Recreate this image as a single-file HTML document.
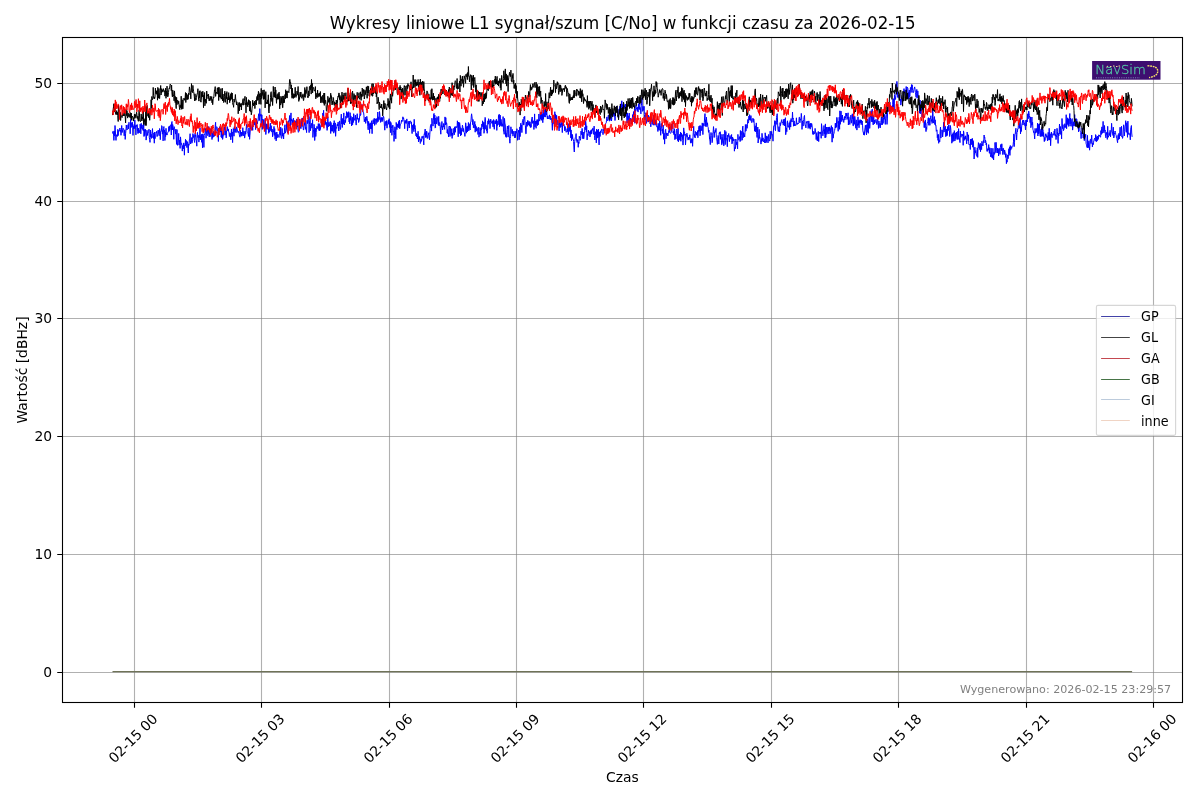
<!DOCTYPE html>
<html><head><meta charset="utf-8"><title>Wykresy liniowe L1</title>
<style>html,body{margin:0;padding:0;background:#fff;width:1200px;height:800px;overflow:hidden}svg{display:block;will-change:transform}</style>
</head><body>
<svg width="1200" height="800" viewBox="0 0 1200 800">
<rect width="1200" height="800" fill="#fff"/>
<path d="M134.50 37.50V702.50M261.50 37.50V702.50M389.50 37.50V702.50M516.50 37.50V702.50M643.50 37.50V702.50M771.50 37.50V702.50M898.50 37.50V702.50M1026.50 37.50V702.50M1153.50 37.50V702.50" stroke="#808080" stroke-opacity="0.62" stroke-width="1.1" fill="none"/>
<path d="M62.50 672.50H1182.50M62.50 554.50H1182.50M62.50 436.50H1182.50M62.50 318.50H1182.50M62.50 201.50H1182.50M62.50 83.50H1182.50" stroke="#808080" stroke-opacity="0.62" stroke-width="1.1" fill="none"/>
<g fill="none" stroke-width="1.0" stroke-linejoin="round">
<path d="M112.5 133.5L112.9 131.4L113.2 131.2L113.6 135.1L113.9 140.4L114.3 131.1L114.6 136.0L115.0 125.5L115.3 129.2L115.7 137.1L116.0 140.4L116.4 135.2L116.7 135.8L117.1 134.4L117.5 136.4L117.8 129.3L118.2 135.6L118.5 131.1L118.9 130.3L119.2 131.2L119.6 130.5L119.9 128.0L120.3 131.5L120.6 130.0L121.0 135.3L121.4 129.8L121.7 125.5L122.1 132.6L122.4 131.9L122.8 129.2L123.1 128.2L123.5 129.5L123.8 130.2L124.2 135.8L124.5 130.6L124.9 129.7L125.2 139.4L125.6 133.6L126.0 129.6L126.3 125.0L126.7 128.5L127.0 130.0L127.4 128.5L127.7 127.6L128.1 124.6L128.4 128.9L128.8 122.4L129.1 122.4L129.5 123.0L129.9 123.6L130.2 133.8L130.6 119.3L130.9 127.8L131.3 122.7L131.6 123.2L132.0 127.0L132.3 122.2L132.7 127.9L133.0 135.4L133.4 126.2L133.7 128.7L134.1 124.5L134.5 128.5L134.8 119.9L135.2 127.0L135.5 125.6L135.9 134.9L136.2 127.8L136.6 124.9L136.9 124.9L137.3 124.5L137.6 131.8L138.0 133.6L138.4 128.1L138.7 132.8L139.1 130.2L139.4 132.7L139.8 131.2L140.1 124.2L140.5 126.2L140.8 133.8L141.2 123.3L141.5 128.4L141.9 125.7L142.2 124.9L142.6 129.6L143.0 129.8L143.3 130.8L143.7 121.1L144.0 136.5L144.4 129.5L144.7 135.5L145.1 130.9L145.4 129.2L145.8 133.0L146.1 140.1L146.5 136.9L146.9 130.2L147.2 131.1L147.6 135.5L147.9 133.2L148.3 132.7L148.6 131.6L149.0 129.2L149.3 137.7L149.7 139.4L150.0 142.4L150.4 130.0L150.7 137.0L151.1 134.3L151.5 138.4L151.8 133.6L152.2 131.3L152.5 128.6L152.9 137.8L153.2 135.8L153.6 138.5L153.9 132.9L154.3 143.2L154.6 132.0L155.0 138.7L155.4 136.3L155.7 135.8L156.1 132.1L156.4 132.8L156.8 131.2L157.1 136.6L157.5 134.8L157.8 134.8L158.2 130.0L158.5 133.4L158.9 134.6L159.2 135.8L159.6 128.5L160.0 131.1L160.3 139.7L160.7 131.5L161.0 131.8L161.4 130.9L161.7 125.6L162.1 126.2L162.4 134.1L162.8 130.4L163.1 140.9L163.5 128.5L163.9 126.5L164.2 132.4L164.6 130.1L164.9 140.5L165.3 132.1L165.6 136.6L166.0 128.3L166.3 134.7L166.7 133.4L167.0 135.1L167.4 133.4L167.7 132.8L168.1 131.6L168.5 131.6L168.8 126.6L169.2 131.3L169.5 126.2L169.9 129.7L170.2 125.8L170.6 124.8L170.9 124.9L171.3 135.0L171.6 122.8L172.0 121.5L172.4 130.0L172.7 124.5L173.1 127.3L173.4 127.9L173.8 139.3L174.1 126.6L174.5 128.4L174.8 129.7L175.2 131.3L175.5 134.1L175.9 129.1L176.2 137.8L176.6 144.4L177.0 129.6L177.3 143.1L177.7 145.4L178.0 142.1L178.4 140.3L178.7 133.4L179.1 144.9L179.4 140.1L179.8 140.7L180.1 148.4L180.5 136.9L180.9 141.6L181.2 144.6L181.6 143.4L181.9 145.0L182.3 151.1L182.6 145.6L183.0 147.4L183.3 148.9L183.7 142.9L184.0 144.0L184.4 155.2L184.7 145.2L185.1 145.8L185.5 139.3L185.8 145.5L186.2 140.4L186.5 142.6L186.9 147.6L187.2 141.5L187.6 142.0L187.9 148.6L188.3 153.0L188.6 143.9L189.0 145.3L189.4 139.4L189.7 139.7L190.1 133.7L190.4 144.0L190.8 141.5L191.1 141.9L191.5 137.6L191.8 143.3L192.2 142.7L192.5 139.5L192.9 133.6L193.2 135.1L193.6 137.5L194.0 135.2L194.3 140.5L194.7 142.5L195.0 133.4L195.4 136.4L195.7 135.1L196.1 140.0L196.4 140.8L196.8 146.2L197.1 135.5L197.5 132.4L197.9 137.6L198.2 135.7L198.6 135.4L198.9 142.1L199.3 135.7L199.6 137.7L200.0 128.0L200.3 139.9L200.7 137.0L201.0 135.3L201.4 134.5L201.7 142.3L202.1 134.0L202.5 147.8L202.8 133.9L203.2 134.7L203.5 135.8L203.9 147.4L204.2 135.3L204.6 133.9L204.9 133.3L205.3 130.4L205.6 128.4L206.0 138.2L206.3 135.6L206.7 128.1L207.1 131.8L207.4 128.5L207.8 135.8L208.1 134.4L208.5 133.0L208.8 126.5L209.2 137.0L209.5 135.6L209.9 131.8L210.2 136.6L210.6 128.7L211.0 129.2L211.3 128.9L211.7 134.1L212.0 139.5L212.4 133.0L212.7 137.8L213.1 132.1L213.4 131.3L213.8 137.0L214.1 134.3L214.5 135.8L214.8 133.9L215.2 126.1L215.6 122.3L215.9 131.5L216.3 127.6L216.6 126.8L217.0 126.8L217.3 128.9L217.7 131.4L218.0 134.4L218.4 141.5L218.7 128.1L219.1 132.3L219.5 126.8L219.8 126.7L220.2 131.0L220.5 132.1L220.9 127.7L221.2 137.1L221.6 129.7L221.9 138.1L222.3 133.9L222.6 139.4L223.0 137.2L223.3 132.8L223.7 135.3L224.1 128.3L224.4 126.8L224.8 130.5L225.1 135.1L225.5 129.3L225.8 129.9L226.2 137.9L226.5 130.8L226.9 130.5L227.2 126.6L227.6 129.8L228.0 131.1L228.3 128.9L228.7 131.8L229.0 131.9L229.4 136.5L229.7 135.9L230.1 133.1L230.4 135.2L230.8 139.8L231.1 134.1L231.5 129.0L231.8 136.5L232.2 132.0L232.6 142.6L232.9 134.6L233.3 128.5L233.6 130.4L234.0 136.2L234.3 126.7L234.7 130.2L235.0 132.3L235.4 130.8L235.7 128.5L236.1 132.6L236.5 126.9L236.8 127.9L237.2 129.2L237.5 131.0L237.9 132.2L238.2 132.9L238.6 132.7L238.9 131.0L239.3 134.7L239.6 136.1L240.0 137.2L240.3 130.3L240.7 134.4L241.1 136.1L241.4 132.1L241.8 136.2L242.1 134.2L242.5 134.6L242.8 127.7L243.2 135.9L243.5 134.8L243.9 131.1L244.2 131.8L244.6 138.1L245.0 135.8L245.3 131.3L245.7 134.2L246.0 130.5L246.4 126.2L246.7 124.3L247.1 131.2L247.4 132.4L247.8 132.7L248.1 133.8L248.5 136.5L248.8 127.8L249.2 127.9L249.6 139.3L249.9 135.3L250.3 129.7L250.6 123.5L251.0 128.5L251.3 129.6L251.7 129.8L252.0 130.0L252.4 125.5L252.7 130.4L253.1 121.3L253.5 123.0L253.8 122.0L254.2 125.1L254.5 121.7L254.9 123.0L255.2 122.6L255.6 129.6L255.9 123.2L256.3 118.6L256.6 121.6L257.0 121.3L257.3 123.9L257.7 121.4L258.1 120.0L258.4 116.1L258.8 113.7L259.1 120.7L259.5 120.2L259.8 108.6L260.2 116.3L260.5 114.5L260.9 116.8L261.2 124.8L261.6 114.5L262.0 114.9L262.3 129.4L262.7 119.0L263.0 119.7L263.4 126.5L263.7 119.7L264.1 122.4L264.4 124.0L264.8 130.6L265.1 118.5L265.5 123.9L265.8 134.5L266.2 130.6L266.6 123.8L266.9 128.9L267.3 125.4L267.6 124.5L268.0 129.6L268.3 123.4L268.7 133.3L269.0 127.0L269.4 132.1L269.7 131.9L270.1 123.7L270.5 123.1L270.8 130.7L271.2 125.7L271.5 130.4L271.9 132.1L272.2 129.1L272.6 136.8L272.9 134.3L273.3 130.7L273.6 131.8L274.0 126.4L274.3 135.4L274.7 128.6L275.1 139.3L275.4 132.7L275.8 132.7L276.1 140.9L276.5 139.3L276.8 132.0L277.2 137.8L277.5 135.0L277.9 134.3L278.2 135.9L278.6 135.8L279.0 137.5L279.3 134.0L279.7 133.1L280.0 129.3L280.4 135.3L280.7 127.1L281.1 137.2L281.4 138.2L281.8 138.5L282.1 128.4L282.5 136.2L282.8 132.9L283.2 133.5L283.6 139.0L283.9 133.1L284.3 133.7L284.6 127.4L285.0 124.7L285.3 133.2L285.7 132.0L286.0 130.8L286.4 129.0L286.7 121.3L287.1 130.0L287.5 132.5L287.8 133.2L288.2 123.8L288.5 120.7L288.9 121.4L289.2 121.3L289.6 115.5L289.9 121.7L290.3 128.5L290.6 117.2L291.0 112.9L291.3 120.8L291.7 119.0L292.1 124.8L292.4 120.4L292.8 123.1L293.1 119.1L293.5 118.1L293.8 125.8L294.2 123.4L294.5 122.0L294.9 124.4L295.2 120.7L295.6 124.6L296.0 126.5L296.3 129.1L296.7 118.9L297.0 125.8L297.4 126.9L297.7 125.3L298.1 131.1L298.4 132.3L298.8 131.6L299.1 125.1L299.5 125.1L299.8 118.9L300.2 128.0L300.6 125.3L300.9 128.7L301.3 124.4L301.6 119.9L302.0 126.5L302.3 117.9L302.7 125.1L303.0 125.5L303.4 130.0L303.7 129.9L304.1 125.5L304.4 122.4L304.8 125.4L305.2 122.7L305.5 129.3L305.9 127.1L306.2 128.8L306.6 132.6L306.9 120.7L307.3 120.2L307.6 123.7L308.0 122.6L308.3 118.1L308.7 114.5L309.1 132.6L309.4 124.7L309.8 120.3L310.1 116.5L310.5 130.7L310.8 125.8L311.2 125.9L311.5 123.4L311.9 128.2L312.2 126.4L312.6 119.7L312.9 137.4L313.3 132.0L313.7 129.2L314.0 124.3L314.4 126.4L314.7 140.5L315.1 133.6L315.4 128.1L315.8 136.5L316.1 132.4L316.5 130.2L316.8 126.4L317.2 126.5L317.6 128.7L317.9 128.4L318.3 123.6L318.6 126.8L319.0 130.5L319.3 123.7L319.7 130.8L320.0 129.1L320.4 129.4L320.7 126.0L321.1 124.5L321.4 120.7L321.8 123.4L322.2 125.3L322.5 116.2L322.9 113.0L323.2 115.9L323.6 110.3L323.9 117.8L324.3 124.9L324.6 123.8L325.0 125.2L325.3 120.9L325.7 124.1L326.1 121.9L326.4 122.6L326.8 128.2L327.1 130.4L327.5 128.0L327.8 116.7L328.2 125.7L328.5 126.7L328.9 122.3L329.2 125.1L329.6 126.1L329.9 123.5L330.3 121.4L330.7 133.5L331.0 122.5L331.4 127.6L331.7 131.2L332.1 125.2L332.4 131.3L332.8 125.2L333.1 126.3L333.5 123.1L333.8 133.2L334.2 120.6L334.6 131.3L334.9 131.5L335.3 122.9L335.6 136.3L336.0 129.2L336.3 127.4L336.7 128.3L337.0 125.0L337.4 124.0L337.7 125.9L338.1 122.1L338.4 126.5L338.8 131.0L339.2 122.5L339.5 120.9L339.9 126.2L340.2 129.5L340.6 129.3L340.9 120.5L341.3 114.1L341.6 123.8L342.0 122.8L342.3 127.5L342.7 118.4L343.1 123.7L343.4 124.2L343.8 112.9L344.1 123.8L344.5 124.9L344.8 120.2L345.2 119.9L345.5 122.5L345.9 116.2L346.2 118.4L346.6 111.6L346.9 115.4L347.3 112.5L347.7 117.6L348.0 113.1L348.4 117.3L348.7 111.7L349.1 121.9L349.4 118.0L349.8 123.9L350.1 112.7L350.5 120.3L350.8 115.9L351.2 117.4L351.6 126.0L351.9 122.7L352.3 117.2L352.6 124.8L353.0 118.0L353.3 122.5L353.7 113.7L354.0 117.8L354.4 120.1L354.7 120.3L355.1 117.4L355.4 115.1L355.8 121.6L356.2 125.1L356.5 119.2L356.9 116.6L357.2 113.7L357.6 119.2L357.9 119.4L358.3 118.3L358.6 122.5L359.0 121.4L359.3 120.5L359.7 115.9L360.1 113.3L360.4 115.6L360.8 114.9L361.1 105.8L361.5 109.0L361.8 104.4L362.2 104.6L362.5 109.1L362.9 109.6L363.2 112.6L363.6 112.5L363.9 115.2L364.3 121.7L364.7 119.4L365.0 121.3L365.4 117.0L365.7 123.4L366.1 119.5L366.4 120.4L366.8 116.3L367.1 118.2L367.5 120.9L367.8 126.4L368.2 129.8L368.6 121.4L368.9 124.8L369.3 124.0L369.6 133.3L370.0 122.9L370.3 122.9L370.7 128.8L371.0 123.2L371.4 129.1L371.7 120.7L372.1 133.7L372.4 124.0L372.8 122.9L373.2 119.7L373.5 122.4L373.9 123.9L374.2 118.4L374.6 125.4L374.9 118.7L375.3 119.6L375.6 119.0L376.0 124.4L376.3 118.5L376.7 121.7L377.1 122.6L377.4 121.9L377.8 112.0L378.1 121.7L378.5 117.5L378.8 116.8L379.2 119.6L379.5 111.5L379.9 115.2L380.2 119.4L380.6 122.4L380.9 117.7L381.3 120.3L381.7 117.4L382.0 121.8L382.4 117.8L382.7 120.5L383.1 117.0L383.4 116.2L383.8 117.0L384.1 121.0L384.5 126.9L384.8 130.2L385.2 121.7L385.6 121.4L385.9 125.6L386.3 124.0L386.6 120.6L387.0 128.2L387.3 124.9L387.7 123.5L388.0 121.2L388.4 120.0L388.7 124.3L389.1 118.7L389.4 121.9L389.8 127.5L390.2 121.5L390.5 132.6L390.9 122.5L391.2 125.1L391.6 128.3L391.9 135.3L392.3 128.1L392.6 125.3L393.0 125.1L393.3 131.6L393.7 131.0L394.0 141.4L394.4 135.7L394.8 126.8L395.1 127.2L395.5 132.1L395.8 138.8L396.2 122.4L396.5 125.2L396.9 129.6L397.2 123.8L397.6 127.0L397.9 124.7L398.3 127.6L398.7 121.4L399.0 127.7L399.4 120.0L399.7 128.8L400.1 126.4L400.4 124.1L400.8 124.0L401.1 123.3L401.5 120.2L401.8 121.8L402.2 121.5L402.5 119.3L402.9 116.8L403.3 118.6L403.6 117.9L404.0 121.3L404.3 121.9L404.7 128.7L405.0 120.4L405.4 122.8L405.7 120.6L406.1 123.6L406.4 122.0L406.8 118.9L407.2 123.6L407.5 130.9L407.9 126.6L408.2 121.2L408.6 124.0L408.9 124.1L409.3 128.0L409.6 121.0L410.0 121.6L410.3 121.1L410.7 120.9L411.0 123.6L411.4 122.1L411.8 129.9L412.1 133.6L412.5 125.6L412.8 124.9L413.2 129.9L413.5 123.9L413.9 131.7L414.2 119.3L414.6 128.8L414.9 125.3L415.3 127.7L415.7 133.1L416.0 135.9L416.4 133.3L416.7 137.0L417.1 134.1L417.4 139.0L417.8 136.6L418.1 131.3L418.5 142.0L418.8 136.4L419.2 139.5L419.5 136.7L419.9 140.1L420.3 143.5L420.6 142.6L421.0 138.8L421.3 141.4L421.7 138.4L422.0 136.4L422.4 138.2L422.7 138.1L423.1 135.9L423.4 140.5L423.8 144.9L424.2 133.9L424.5 134.5L424.9 131.2L425.2 129.0L425.6 137.5L425.9 132.4L426.3 137.3L426.6 131.1L427.0 132.1L427.3 138.5L427.7 138.0L428.0 135.5L428.4 134.9L428.8 132.7L429.1 137.8L429.5 139.8L429.8 134.7L430.2 128.6L430.5 125.4L430.9 125.5L431.2 124.1L431.6 131.1L431.9 118.2L432.3 121.7L432.7 121.8L433.0 126.1L433.4 120.2L433.7 114.0L434.1 113.4L434.4 123.9L434.8 115.0L435.1 128.1L435.5 127.7L435.8 118.0L436.2 121.2L436.5 123.9L436.9 116.6L437.3 117.9L437.6 118.8L438.0 123.1L438.3 124.8L438.7 116.3L439.0 126.0L439.4 123.2L439.7 122.5L440.1 124.5L440.4 130.2L440.8 134.2L441.2 126.8L441.5 127.1L441.9 121.5L442.2 126.2L442.6 130.0L442.9 126.1L443.3 127.0L443.6 123.5L444.0 124.8L444.3 127.8L444.7 129.4L445.0 116.9L445.4 124.9L445.8 117.7L446.1 124.4L446.5 122.7L446.8 123.9L447.2 133.0L447.5 129.5L447.9 133.8L448.2 133.1L448.6 137.0L448.9 126.9L449.3 126.0L449.7 127.3L450.0 136.5L450.4 126.6L450.7 129.5L451.1 134.8L451.4 135.5L451.8 128.7L452.1 138.4L452.5 132.9L452.8 135.5L453.2 133.1L453.5 132.9L453.9 128.2L454.3 134.8L454.6 126.8L455.0 128.7L455.3 132.3L455.7 126.5L456.0 126.9L456.4 127.6L456.7 126.6L457.1 127.3L457.4 120.8L457.8 126.0L458.2 136.8L458.5 122.0L458.9 130.0L459.2 133.7L459.6 122.6L459.9 125.1L460.3 126.6L460.6 135.9L461.0 128.1L461.3 135.0L461.7 129.7L462.0 130.9L462.4 125.2L462.8 126.8L463.1 131.6L463.5 128.5L463.8 132.1L464.2 132.6L464.5 132.9L464.9 136.4L465.2 132.6L465.6 122.8L465.9 123.6L466.3 133.2L466.7 126.8L467.0 126.5L467.4 131.9L467.7 126.3L468.1 128.6L468.4 122.5L468.8 130.9L469.1 123.7L469.5 127.1L469.8 128.9L470.2 130.0L470.5 122.2L470.9 122.1L471.3 116.1L471.6 113.8L472.0 117.0L472.3 120.2L472.7 124.7L473.0 119.5L473.4 127.7L473.7 125.1L474.1 128.1L474.4 124.2L474.8 121.4L475.2 132.2L475.5 124.6L475.9 130.5L476.2 126.5L476.6 131.2L476.9 129.9L477.3 128.6L477.6 128.5L478.0 134.5L478.3 127.1L478.7 128.7L479.0 137.2L479.4 132.5L479.8 134.1L480.1 127.7L480.5 131.4L480.8 136.0L481.2 129.1L481.5 129.7L481.9 124.0L482.2 126.7L482.6 120.8L482.9 122.5L483.3 129.0L483.6 122.4L484.0 133.3L484.4 130.3L484.7 121.7L485.1 117.4L485.4 118.2L485.8 129.2L486.1 125.3L486.5 130.7L486.8 129.1L487.2 133.3L487.5 130.6L487.9 120.8L488.3 124.2L488.6 118.7L489.0 120.2L489.3 120.4L489.7 123.0L490.0 128.6L490.4 122.5L490.7 119.1L491.1 120.6L491.4 122.7L491.8 122.2L492.1 123.6L492.5 120.7L492.9 126.8L493.2 126.9L493.6 119.5L493.9 125.5L494.3 129.3L494.6 124.2L495.0 120.5L495.3 123.9L495.7 121.2L496.0 122.6L496.4 119.2L496.8 130.4L497.1 124.1L497.5 125.5L497.8 120.8L498.2 124.7L498.5 115.4L498.9 117.7L499.2 114.2L499.6 126.9L499.9 115.7L500.3 115.1L500.6 125.6L501.0 119.3L501.4 121.9L501.7 126.3L502.1 124.0L502.4 123.8L502.8 126.4L503.1 116.6L503.5 131.2L503.8 130.4L504.2 134.3L504.5 118.4L504.9 123.1L505.3 124.9L505.6 136.5L506.0 133.3L506.3 137.4L506.7 134.1L507.0 129.6L507.4 126.0L507.7 129.4L508.1 137.1L508.4 129.8L508.8 125.5L509.1 133.9L509.5 138.8L509.9 143.2L510.2 138.5L510.6 136.3L510.9 126.8L511.3 132.1L511.6 132.5L512.0 133.7L512.3 129.4L512.7 134.5L513.0 136.2L513.4 132.8L513.8 131.2L514.1 134.0L514.5 134.9L514.8 138.0L515.2 131.1L515.5 137.5L515.9 132.5L516.2 131.3L516.6 133.2L516.9 128.7L517.3 135.0L517.6 140.3L518.0 133.2L518.4 132.5L518.7 130.1L519.1 139.8L519.4 137.2L519.8 126.9L520.1 136.6L520.5 127.6L520.8 123.2L521.2 130.0L521.5 125.1L521.9 132.6L522.3 122.0L522.6 120.7L523.0 119.3L523.3 121.2L523.7 125.1L524.0 116.9L524.4 119.1L524.7 116.3L525.1 124.2L525.4 125.6L525.8 133.8L526.1 133.7L526.5 122.0L526.9 123.6L527.2 126.4L527.6 120.6L527.9 120.3L528.3 125.2L528.6 122.9L529.0 121.3L529.3 122.0L529.7 126.2L530.0 121.8L530.4 127.5L530.8 124.4L531.1 127.3L531.5 120.0L531.8 119.0L532.2 117.0L532.5 123.3L532.9 123.2L533.2 120.7L533.6 122.0L533.9 129.5L534.3 124.0L534.6 113.9L535.0 126.9L535.4 124.6L535.7 121.0L536.1 128.3L536.4 120.8L536.8 124.1L537.1 119.5L537.5 125.6L537.8 119.8L538.2 124.9L538.5 122.7L538.9 114.0L539.3 120.8L539.6 121.1L540.0 118.9L540.3 112.4L540.7 119.1L541.0 115.5L541.4 120.3L541.7 112.2L542.1 119.6L542.4 114.4L542.8 122.7L543.1 109.8L543.5 119.3L543.9 111.6L544.2 109.9L544.6 116.7L544.9 115.5L545.3 117.1L545.6 108.3L546.0 109.7L546.3 115.0L546.7 108.0L547.0 116.2L547.4 118.8L547.8 115.8L548.1 119.0L548.5 117.8L548.8 117.5L549.2 117.2L549.5 114.9L549.9 119.2L550.2 117.7L550.6 116.3L550.9 120.0L551.3 118.2L551.6 119.4L552.0 123.4L552.4 130.3L552.7 116.8L553.1 118.3L553.4 123.4L553.8 123.4L554.1 122.8L554.5 127.5L554.8 111.7L555.2 119.1L555.5 114.0L555.9 118.5L556.3 123.3L556.6 115.3L557.0 125.1L557.3 120.6L557.7 120.5L558.0 120.3L558.4 125.4L558.7 125.7L559.1 130.9L559.4 120.1L559.8 125.0L560.1 127.7L560.5 123.7L560.9 127.0L561.2 122.2L561.6 125.2L561.9 123.5L562.3 132.6L562.6 122.8L563.0 122.4L563.3 125.2L563.7 125.2L564.0 124.5L564.4 127.0L564.8 130.9L565.1 126.5L565.5 128.7L565.8 130.3L566.2 132.3L566.5 131.2L566.9 130.7L567.2 128.6L567.6 131.7L567.9 123.4L568.3 134.5L568.6 131.8L569.0 123.8L569.4 130.8L569.7 124.2L570.1 131.9L570.4 126.1L570.8 137.9L571.1 129.9L571.5 140.7L571.8 134.0L572.2 138.8L572.5 134.7L572.9 139.5L573.3 139.4L573.6 141.5L574.0 149.1L574.3 152.0L574.7 141.6L575.0 139.2L575.4 137.3L575.7 136.8L576.1 133.6L576.4 140.4L576.8 139.1L577.1 142.5L577.5 139.9L577.9 139.8L578.2 147.3L578.6 142.0L578.9 143.5L579.3 136.2L579.6 137.8L580.0 137.0L580.3 140.3L580.7 138.5L581.0 131.1L581.4 134.7L581.7 134.3L582.1 128.4L582.5 133.8L582.8 138.7L583.2 132.0L583.5 138.6L583.9 138.8L584.2 133.9L584.6 133.1L584.9 127.2L585.3 129.8L585.6 120.7L586.0 123.8L586.4 131.9L586.7 125.8L587.1 139.9L587.4 133.8L587.8 135.1L588.1 135.6L588.5 130.2L588.8 132.6L589.2 132.2L589.5 131.7L589.9 137.0L590.2 136.0L590.6 130.7L591.0 134.2L591.3 129.8L591.7 133.7L592.0 129.7L592.4 130.3L592.7 128.2L593.1 128.3L593.4 132.8L593.8 134.4L594.1 126.1L594.5 135.5L594.9 140.0L595.2 136.1L595.6 131.7L595.9 132.5L596.3 142.9L596.6 129.1L597.0 132.9L597.3 138.1L597.7 130.3L598.0 136.7L598.4 129.1L598.7 138.5L599.1 144.9L599.5 131.9L599.8 136.3L600.2 136.4L600.5 131.0L600.9 132.9L601.2 130.0L601.6 130.4L601.9 128.9L602.3 131.6L602.6 132.1L603.0 134.7L603.4 131.8L603.7 129.0L604.1 128.5L604.4 129.5L604.8 128.3L605.1 128.9L605.5 124.0L605.8 123.3L606.2 122.8L606.5 120.6L606.9 116.9L607.2 121.0L607.6 120.2L608.0 118.8L608.3 115.2L608.7 116.5L609.0 119.9L609.4 121.2L609.7 113.3L610.1 120.5L610.4 117.2L610.8 113.8L611.1 117.2L611.5 120.9L611.9 117.0L612.2 110.1L612.6 113.6L612.9 112.1L613.3 115.1L613.6 112.8L614.0 116.5L614.3 112.8L614.7 114.0L615.0 120.5L615.4 113.9L615.7 111.6L616.1 112.0L616.5 107.5L616.8 106.0L617.2 112.4L617.5 110.6L617.9 109.3L618.2 117.9L618.6 117.5L618.9 113.5L619.3 108.8L619.6 109.3L620.0 105.9L620.4 112.7L620.7 106.9L621.1 109.6L621.4 105.9L621.8 100.8L622.1 107.7L622.5 104.5L622.8 111.3L623.2 109.7L623.5 107.1L623.9 107.4L624.2 106.0L624.6 105.7L625.0 108.8L625.3 104.0L625.7 116.0L626.0 115.2L626.4 110.7L626.7 115.3L627.1 123.1L627.4 112.9L627.8 119.6L628.1 115.7L628.5 116.1L628.9 123.3L629.2 113.1L629.6 125.7L629.9 121.1L630.3 118.0L630.6 120.5L631.0 119.4L631.3 123.9L631.7 119.6L632.0 118.1L632.4 117.5L632.7 114.6L633.1 118.9L633.5 111.6L633.8 121.9L634.2 116.7L634.5 108.8L634.9 123.3L635.2 109.6L635.6 111.3L635.9 105.4L636.3 107.4L636.6 109.0L637.0 109.8L637.4 111.2L637.7 107.1L638.1 112.1L638.4 104.3L638.8 108.7L639.1 103.2L639.5 109.5L639.8 107.4L640.2 107.4L640.5 108.9L640.9 113.9L641.2 103.5L641.6 104.7L642.0 97.5L642.3 111.4L642.7 110.3L643.0 106.4L643.4 110.4L643.7 110.0L644.1 106.3L644.4 114.5L644.8 119.9L645.1 119.9L645.5 114.7L645.9 112.7L646.2 123.3L646.6 123.3L646.9 119.3L647.3 113.0L647.6 120.2L648.0 118.9L648.3 115.1L648.7 122.1L649.0 117.8L649.4 121.1L649.7 119.6L650.1 116.3L650.5 122.4L650.8 126.8L651.2 117.5L651.5 117.6L651.9 117.5L652.2 124.3L652.6 119.6L652.9 122.5L653.3 125.2L653.6 115.2L654.0 124.6L654.4 120.3L654.7 118.8L655.1 125.3L655.4 124.3L655.8 119.9L656.1 124.4L656.5 123.2L656.8 127.0L657.2 126.7L657.5 126.5L657.9 131.5L658.2 123.3L658.6 129.6L659.0 129.4L659.3 130.3L659.7 121.0L660.0 125.3L660.4 127.3L660.7 135.3L661.1 124.2L661.4 123.4L661.8 128.2L662.1 131.1L662.5 129.3L662.9 133.6L663.2 125.1L663.6 139.3L663.9 133.1L664.3 133.9L664.6 144.1L665.0 134.1L665.3 130.4L665.7 129.3L666.0 138.8L666.4 135.2L666.7 132.9L667.1 133.9L667.5 133.4L667.8 136.0L668.2 134.5L668.5 133.4L668.9 130.5L669.2 132.0L669.6 126.8L669.9 133.0L670.3 133.1L670.6 133.4L671.0 132.3L671.3 132.2L671.7 124.0L672.1 127.2L672.4 126.2L672.8 122.7L673.1 132.9L673.5 131.4L673.8 134.6L674.2 134.6L674.5 128.7L674.9 139.7L675.2 134.0L675.6 136.6L676.0 138.9L676.3 130.7L676.7 129.1L677.0 130.8L677.4 138.5L677.7 140.6L678.1 128.4L678.4 141.9L678.8 136.2L679.1 139.9L679.5 134.4L679.8 135.9L680.2 140.4L680.6 132.1L680.9 141.3L681.3 133.0L681.6 136.4L682.0 136.5L682.3 134.6L682.7 140.5L683.0 145.1L683.4 139.0L683.7 127.9L684.1 132.3L684.5 132.0L684.8 135.5L685.2 134.0L685.5 145.0L685.9 138.8L686.2 137.6L686.6 134.2L686.9 133.2L687.3 134.8L687.6 137.7L688.0 140.1L688.3 139.8L688.7 137.2L689.1 139.6L689.4 138.6L689.8 134.8L690.1 137.9L690.5 142.2L690.8 143.2L691.2 138.6L691.5 139.1L691.9 142.8L692.2 138.8L692.6 146.3L693.0 136.5L693.3 132.2L693.7 126.3L694.0 133.8L694.4 136.9L694.7 134.5L695.1 138.0L695.4 131.4L695.8 132.6L696.1 134.0L696.5 135.0L696.8 132.2L697.2 135.8L697.6 130.6L697.9 137.8L698.3 132.0L698.6 129.6L699.0 126.2L699.3 131.4L699.7 125.7L700.0 135.8L700.4 133.6L700.7 125.7L701.1 126.1L701.5 128.8L701.8 130.8L702.2 122.9L702.5 123.9L702.9 134.6L703.2 125.5L703.6 123.5L703.9 126.1L704.3 122.4L704.6 118.0L705.0 113.6L705.3 126.2L705.7 119.8L706.1 126.8L706.4 117.1L706.8 122.2L707.1 125.2L707.5 122.8L707.8 126.9L708.2 127.4L708.5 132.3L708.9 130.0L709.2 133.1L709.6 139.7L710.0 140.9L710.3 144.6L710.7 135.9L711.0 132.5L711.4 135.4L711.7 135.9L712.1 142.7L712.4 141.1L712.8 133.0L713.1 133.0L713.5 126.6L713.8 130.0L714.2 137.5L714.6 131.9L714.9 132.4L715.3 130.0L715.6 132.2L716.0 128.4L716.3 137.5L716.7 137.8L717.0 141.3L717.4 144.4L717.7 139.1L718.1 135.5L718.5 136.9L718.8 144.0L719.2 133.0L719.5 132.3L719.9 134.0L720.2 131.7L720.6 139.3L720.9 134.1L721.3 136.3L721.6 144.7L722.0 144.7L722.3 143.3L722.7 136.3L723.1 134.2L723.4 140.9L723.8 145.9L724.1 139.7L724.5 139.8L724.8 130.3L725.2 144.6L725.5 137.9L725.9 131.6L726.2 139.2L726.6 138.5L727.0 141.9L727.3 146.7L727.7 135.0L728.0 136.8L728.4 135.0L728.7 133.5L729.1 138.7L729.4 141.7L729.8 136.2L730.1 135.5L730.5 138.5L730.8 137.4L731.2 139.3L731.6 134.5L731.9 143.9L732.3 143.3L732.6 137.0L733.0 141.0L733.3 138.7L733.7 140.8L734.0 139.1L734.4 151.2L734.7 147.6L735.1 148.2L735.5 148.7L735.8 139.0L736.2 141.8L736.5 144.6L736.9 142.0L737.2 145.2L737.6 148.8L737.9 134.4L738.3 139.3L738.6 139.9L739.0 139.5L739.3 138.0L739.7 136.6L740.1 141.6L740.4 130.5L740.8 140.7L741.1 131.2L741.5 132.3L741.8 135.3L742.2 140.2L742.5 128.0L742.9 126.1L743.2 137.7L743.6 132.6L744.0 133.8L744.3 134.6L744.7 137.0L745.0 132.4L745.4 124.5L745.7 131.3L746.1 130.9L746.4 125.6L746.8 124.4L747.1 128.3L747.5 124.7L747.8 119.5L748.2 123.1L748.6 121.5L748.9 116.1L749.3 120.0L749.6 114.7L750.0 115.9L750.3 120.5L750.7 116.7L751.0 115.7L751.4 121.6L751.7 122.6L752.1 119.2L752.5 118.6L752.8 118.5L753.2 122.3L753.5 118.7L753.9 119.0L754.2 123.2L754.6 131.2L754.9 128.0L755.3 125.8L755.6 131.9L756.0 131.2L756.3 122.9L756.7 134.5L757.1 137.5L757.4 132.2L757.8 127.0L758.1 143.0L758.5 139.3L758.8 134.9L759.2 129.4L759.5 138.3L759.9 137.4L760.2 139.5L760.6 140.2L761.0 144.1L761.3 138.7L761.7 141.8L762.0 133.3L762.4 137.6L762.7 140.9L763.1 137.8L763.4 142.0L763.8 141.4L764.1 141.9L764.5 139.5L764.8 143.0L765.2 132.8L765.6 136.9L765.9 143.0L766.3 135.9L766.6 141.6L767.0 138.6L767.3 136.9L767.7 136.5L768.0 142.9L768.4 134.8L768.7 134.4L769.1 141.2L769.4 140.6L769.8 141.0L770.2 131.2L770.5 138.9L770.9 136.9L771.2 135.1L771.6 131.4L771.9 134.8L772.3 134.6L772.6 134.5L773.0 141.2L773.3 133.0L773.7 126.1L774.1 126.3L774.4 124.6L774.8 120.6L775.1 129.6L775.5 130.7L775.8 121.2L776.2 124.4L776.5 117.4L776.9 115.3L777.2 113.7L777.6 122.9L777.9 128.9L778.3 131.5L778.7 129.2L779.0 126.6L779.4 131.4L779.7 132.0L780.1 122.6L780.4 125.7L780.8 123.9L781.1 122.6L781.5 120.3L781.8 119.6L782.2 123.0L782.6 122.7L782.9 122.1L783.3 125.2L783.6 119.6L784.0 120.1L784.3 119.0L784.7 126.0L785.0 123.3L785.4 117.7L785.7 134.7L786.1 131.4L786.4 127.9L786.8 131.7L787.2 122.1L787.5 120.8L787.9 127.0L788.2 127.4L788.6 125.7L788.9 124.6L789.3 122.6L789.6 129.6L790.0 121.3L790.3 120.4L790.7 127.1L791.1 118.5L791.4 121.1L791.8 121.0L792.1 122.0L792.5 112.0L792.8 118.9L793.2 118.0L793.5 126.2L793.9 123.6L794.2 120.9L794.6 126.0L794.9 125.0L795.3 124.5L795.7 125.6L796.0 124.6L796.4 117.8L796.7 122.8L797.1 124.6L797.4 122.9L797.8 123.5L798.1 124.0L798.5 123.0L798.8 122.7L799.2 117.2L799.6 117.3L799.9 122.8L800.3 118.8L800.6 120.1L801.0 118.4L801.3 113.4L801.7 117.9L802.0 129.4L802.4 122.3L802.7 120.8L803.1 126.1L803.4 121.5L803.8 119.5L804.2 116.3L804.5 115.4L804.9 124.3L805.2 125.5L805.6 124.9L805.9 127.9L806.3 121.6L806.6 123.1L807.0 121.4L807.3 121.5L807.7 121.3L808.1 128.4L808.4 127.4L808.8 120.9L809.1 123.4L809.5 128.1L809.8 123.7L810.2 129.2L810.5 123.3L810.9 127.1L811.2 127.1L811.6 123.4L811.9 124.3L812.3 128.0L812.7 134.2L813.0 134.0L813.4 134.5L813.7 131.3L814.1 132.1L814.4 133.9L814.8 133.5L815.1 128.4L815.5 132.3L815.8 132.1L816.2 139.6L816.6 133.3L816.9 132.7L817.3 140.9L817.6 136.7L818.0 140.6L818.3 131.4L818.7 141.6L819.0 132.6L819.4 133.3L819.7 132.2L820.1 133.4L820.4 133.9L820.8 131.9L821.2 138.3L821.5 123.7L821.9 127.0L822.2 130.9L822.6 131.8L822.9 135.8L823.3 130.6L823.6 131.0L824.0 125.5L824.3 133.8L824.7 129.4L825.1 137.9L825.4 123.9L825.8 137.4L826.1 129.4L826.5 127.1L826.8 134.3L827.2 133.6L827.5 132.1L827.9 127.0L828.2 130.8L828.6 127.4L828.9 134.0L829.3 126.9L829.7 130.7L830.0 128.2L830.4 133.5L830.7 128.5L831.1 127.0L831.4 125.6L831.8 132.5L832.1 142.2L832.5 127.4L832.8 129.4L833.2 138.2L833.6 134.0L833.9 133.6L834.3 131.6L834.6 130.4L835.0 128.2L835.3 123.3L835.7 127.9L836.0 123.0L836.4 127.2L836.7 117.5L837.1 117.5L837.4 123.6L837.8 124.6L838.2 131.3L838.5 121.3L838.9 127.6L839.2 117.2L839.6 129.3L839.9 110.8L840.3 124.3L840.6 117.3L841.0 111.1L841.3 114.8L841.7 121.6L842.1 119.1L842.4 115.0L842.8 119.8L843.1 119.0L843.5 122.2L843.8 122.5L844.2 118.2L844.5 116.5L844.9 119.9L845.2 116.8L845.6 118.0L845.9 113.0L846.3 116.1L846.7 113.3L847.0 119.5L847.4 118.1L847.7 116.5L848.1 112.8L848.4 125.0L848.8 116.8L849.1 119.1L849.5 122.4L849.8 124.5L850.2 119.9L850.6 119.0L850.9 115.1L851.3 123.2L851.6 120.1L852.0 119.3L852.3 113.8L852.7 119.5L853.0 125.8L853.4 125.8L853.7 116.0L854.1 122.3L854.4 124.3L854.8 116.4L855.2 120.5L855.5 126.1L855.9 128.3L856.2 119.8L856.6 121.8L856.9 130.1L857.3 124.0L857.6 125.5L858.0 116.8L858.3 125.1L858.7 120.6L859.0 127.8L859.4 120.6L859.8 123.2L860.1 119.6L860.5 122.6L860.8 120.2L861.2 124.7L861.5 120.0L861.9 122.7L862.2 121.0L862.6 125.9L862.9 130.9L863.3 132.6L863.7 134.8L864.0 131.9L864.4 135.2L864.7 131.0L865.1 127.4L865.4 125.2L865.8 130.0L866.1 132.5L866.5 134.9L866.8 124.7L867.2 132.2L867.5 119.0L867.9 124.8L868.3 133.3L868.6 121.8L869.0 117.8L869.3 117.1L869.7 128.4L870.0 123.8L870.4 116.0L870.7 116.6L871.1 110.7L871.4 115.4L871.8 121.9L872.2 109.1L872.5 121.8L872.9 120.9L873.2 124.9L873.6 115.7L873.9 118.2L874.3 124.0L874.6 120.1L875.0 122.7L875.3 120.7L875.7 120.0L876.0 119.3L876.4 122.0L876.8 124.5L877.1 124.5L877.5 116.8L877.8 119.9L878.2 123.9L878.5 128.4L878.9 121.0L879.2 122.6L879.6 124.9L879.9 127.6L880.3 128.0L880.7 122.5L881.0 120.7L881.4 117.1L881.7 124.8L882.1 123.8L882.4 124.6L882.8 118.1L883.1 123.4L883.5 117.7L883.8 114.3L884.2 119.1L884.5 114.6L884.9 120.6L885.3 124.4L885.6 118.2L886.0 115.2L886.3 112.6L886.7 114.6L887.0 124.4L887.4 118.1L887.7 108.9L888.1 106.6L888.4 111.4L888.8 110.2L889.2 110.4L889.5 110.5L889.9 102.1L890.2 104.8L890.6 111.5L890.9 110.6L891.3 108.4L891.6 106.4L892.0 109.7L892.3 109.3L892.7 104.3L893.0 99.2L893.4 107.0L893.8 98.6L894.1 110.8L894.5 94.6L894.8 96.9L895.2 99.4L895.5 99.4L895.9 95.2L896.2 84.1L896.6 89.4L896.9 81.4L897.3 89.9L897.7 97.4L898.0 96.5L898.4 95.3L898.7 96.5L899.1 98.2L899.4 94.7L899.8 93.7L900.1 100.7L900.5 99.1L900.8 105.1L901.2 102.8L901.5 98.9L901.9 98.7L902.3 98.5L902.6 102.2L903.0 95.3L903.3 91.0L903.7 90.8L904.0 88.6L904.4 92.9L904.7 90.6L905.1 90.1L905.4 98.1L905.8 99.5L906.2 86.5L906.5 95.3L906.9 92.3L907.2 87.0L907.6 87.8L907.9 88.5L908.3 99.2L908.6 92.5L909.0 98.7L909.3 90.1L909.7 96.8L910.0 94.5L910.4 87.6L910.8 87.4L911.1 92.5L911.5 84.6L911.8 89.2L912.2 84.8L912.5 90.5L912.9 92.5L913.2 92.8L913.6 92.0L913.9 89.5L914.3 88.0L914.7 86.9L915.0 89.1L915.4 92.3L915.7 94.0L916.1 97.3L916.4 93.4L916.8 89.4L917.1 98.3L917.5 96.2L917.8 90.9L918.2 96.1L918.5 97.7L918.9 100.3L919.3 105.8L919.6 113.1L920.0 100.0L920.3 113.8L920.7 111.0L921.0 110.3L921.4 105.3L921.7 111.9L922.1 117.4L922.4 113.5L922.8 112.8L923.2 114.2L923.5 121.6L923.9 122.7L924.2 127.6L924.6 121.6L924.9 127.5L925.3 119.9L925.6 125.4L926.0 131.6L926.3 127.2L926.7 129.4L927.0 123.5L927.4 122.5L927.8 123.1L928.1 117.9L928.5 117.7L928.8 125.3L929.2 118.3L929.5 119.9L929.9 125.3L930.2 119.5L930.6 117.2L930.9 115.7L931.3 121.4L931.7 119.5L932.0 123.4L932.4 122.8L932.7 108.1L933.1 116.4L933.4 123.1L933.8 120.3L934.1 119.7L934.5 116.6L934.8 124.5L935.2 119.8L935.5 125.4L935.9 125.1L936.3 131.3L936.6 130.5L937.0 129.9L937.3 137.7L937.7 134.7L938.0 140.4L938.4 134.4L938.7 143.3L939.1 139.8L939.4 142.0L939.8 141.5L940.2 130.2L940.5 127.0L940.9 138.1L941.2 132.0L941.6 131.6L941.9 129.8L942.3 130.2L942.6 137.0L943.0 133.1L943.3 128.8L943.7 122.2L944.0 132.1L944.4 130.3L944.8 126.2L945.1 126.1L945.5 126.3L945.8 136.7L946.2 129.2L946.5 135.6L946.9 129.0L947.2 135.6L947.6 126.8L947.9 126.3L948.3 130.6L948.6 124.8L949.0 124.7L949.4 130.4L949.7 136.5L950.1 130.8L950.4 125.5L950.8 129.1L951.1 134.8L951.5 134.8L951.8 143.2L952.2 140.9L952.5 133.8L952.9 141.6L953.3 132.5L953.6 139.3L954.0 141.1L954.3 130.6L954.7 133.2L955.0 140.8L955.4 133.1L955.7 138.8L956.1 138.2L956.4 132.1L956.8 137.2L957.1 139.6L957.5 139.0L957.9 131.2L958.2 139.4L958.6 128.6L958.9 135.8L959.3 137.3L959.6 140.3L960.0 142.6L960.3 131.1L960.7 135.0L961.0 137.3L961.4 134.2L961.8 134.3L962.1 135.6L962.5 136.0L962.8 134.0L963.2 145.3L963.5 130.9L963.9 133.1L964.2 140.4L964.6 137.5L964.9 136.7L965.3 139.2L965.6 135.8L966.0 137.7L966.4 140.9L966.7 143.9L967.1 132.1L967.4 133.7L967.8 137.2L968.1 140.8L968.5 134.8L968.8 144.3L969.2 144.8L969.5 144.1L969.9 144.6L970.3 149.5L970.6 139.1L971.0 145.0L971.3 141.3L971.7 138.9L972.0 144.3L972.4 138.4L972.7 147.2L973.1 140.6L973.4 141.8L973.8 150.8L974.1 159.0L974.5 152.7L974.9 147.2L975.2 153.1L975.6 151.1L975.9 150.5L976.3 155.3L976.6 155.5L977.0 156.5L977.3 147.8L977.7 157.4L978.0 148.9L978.4 142.6L978.8 145.1L979.1 148.0L979.5 144.7L979.8 149.6L980.2 143.2L980.5 151.7L980.9 145.4L981.2 144.0L981.6 149.6L981.9 141.3L982.3 143.9L982.6 145.6L983.0 146.0L983.4 140.5L983.7 142.5L984.1 135.0L984.4 138.1L984.8 137.5L985.1 142.9L985.5 140.2L985.8 141.0L986.2 145.0L986.5 143.2L986.9 151.3L987.3 151.4L987.6 148.7L988.0 149.1L988.3 150.2L988.7 144.6L989.0 148.6L989.4 153.3L989.7 147.7L990.1 151.4L990.4 154.4L990.8 156.9L991.1 148.1L991.5 154.0L991.9 157.5L992.2 155.0L992.6 158.3L992.9 148.3L993.3 156.8L993.6 160.0L994.0 152.2L994.3 154.3L994.7 154.1L995.0 142.5L995.4 147.4L995.8 152.7L996.1 142.3L996.5 148.5L996.8 150.0L997.2 153.0L997.5 148.0L997.9 152.9L998.2 149.3L998.6 156.0L998.9 148.3L999.3 148.3L999.6 150.9L1000.0 154.4L1000.4 147.5L1000.7 144.6L1001.1 144.4L1001.4 150.9L1001.8 143.8L1002.1 147.8L1002.5 149.1L1002.8 154.6L1003.2 148.4L1003.5 148.3L1003.9 152.7L1004.3 154.5L1004.6 150.0L1005.0 151.7L1005.3 153.4L1005.7 157.4L1006.0 153.7L1006.4 163.7L1006.7 159.5L1007.1 162.2L1007.4 156.0L1007.8 154.8L1008.1 158.7L1008.5 154.2L1008.9 148.7L1009.2 153.2L1009.6 146.9L1009.9 155.4L1010.3 145.5L1010.6 150.2L1011.0 149.3L1011.3 146.5L1011.7 148.4L1012.0 147.3L1012.4 146.9L1012.8 146.3L1013.1 144.8L1013.5 141.3L1013.8 133.9L1014.2 146.6L1014.5 142.4L1014.9 134.5L1015.2 134.3L1015.6 129.7L1015.9 128.3L1016.3 134.4L1016.6 140.0L1017.0 132.6L1017.4 132.1L1017.7 129.0L1018.1 129.0L1018.4 125.4L1018.8 122.8L1019.1 123.5L1019.5 128.3L1019.8 123.2L1020.2 117.8L1020.5 134.0L1020.9 127.2L1021.3 131.5L1021.6 127.1L1022.0 123.6L1022.3 122.6L1022.7 120.3L1023.0 125.0L1023.4 121.2L1023.7 120.1L1024.1 122.4L1024.4 122.6L1024.8 125.5L1025.1 124.5L1025.5 129.9L1025.9 120.1L1026.2 125.9L1026.6 119.9L1026.9 121.0L1027.3 122.0L1027.6 113.8L1028.0 117.4L1028.3 118.7L1028.7 111.1L1029.0 113.2L1029.4 115.6L1029.8 118.2L1030.1 122.6L1030.5 116.9L1030.8 127.7L1031.2 126.3L1031.5 125.5L1031.9 117.0L1032.2 124.8L1032.6 122.3L1032.9 129.2L1033.3 130.6L1033.6 132.5L1034.0 131.8L1034.4 135.4L1034.7 138.9L1035.1 128.4L1035.4 133.2L1035.8 131.7L1036.1 132.3L1036.5 128.5L1036.8 131.9L1037.2 132.6L1037.5 123.2L1037.9 136.0L1038.3 124.3L1038.6 133.8L1039.0 132.3L1039.3 123.6L1039.7 131.1L1040.0 136.0L1040.4 136.6L1040.7 130.9L1041.1 129.1L1041.4 136.4L1041.8 127.3L1042.1 127.5L1042.5 136.0L1042.9 129.4L1043.2 136.8L1043.6 132.5L1043.9 135.6L1044.3 141.6L1044.6 137.6L1045.0 140.5L1045.3 136.3L1045.7 133.9L1046.0 133.6L1046.4 137.3L1046.7 135.6L1047.1 136.0L1047.5 141.0L1047.8 135.9L1048.2 132.3L1048.5 134.6L1048.9 140.2L1049.2 128.3L1049.6 139.8L1049.9 133.5L1050.3 133.9L1050.6 145.7L1051.0 137.7L1051.4 132.0L1051.7 135.7L1052.1 137.7L1052.4 134.2L1052.8 133.9L1053.1 133.6L1053.5 134.3L1053.8 135.3L1054.2 130.9L1054.5 134.6L1054.9 129.0L1055.2 136.1L1055.6 134.4L1056.0 139.6L1056.3 137.8L1056.7 134.8L1057.0 128.3L1057.4 131.4L1057.7 135.4L1058.1 143.4L1058.4 133.4L1058.8 135.9L1059.1 132.2L1059.5 124.0L1059.9 134.1L1060.2 130.9L1060.6 126.5L1060.9 134.5L1061.3 131.4L1061.6 138.9L1062.0 118.5L1062.3 125.2L1062.7 128.7L1063.0 124.6L1063.4 130.7L1063.7 130.1L1064.1 128.7L1064.5 127.1L1064.8 123.7L1065.2 127.3L1065.5 127.5L1065.9 124.0L1066.2 114.7L1066.6 128.7L1066.9 119.5L1067.3 123.9L1067.6 117.8L1068.0 125.2L1068.4 118.8L1068.7 126.4L1069.1 126.2L1069.4 118.8L1069.8 113.5L1070.1 123.9L1070.5 118.2L1070.8 126.1L1071.2 126.3L1071.5 121.9L1071.9 119.3L1072.2 118.6L1072.6 130.1L1073.0 126.2L1073.3 121.7L1073.7 125.0L1074.0 126.0L1074.4 121.6L1074.7 114.6L1075.1 126.2L1075.4 119.1L1075.8 119.2L1076.1 121.7L1076.5 118.7L1076.9 119.6L1077.2 126.7L1077.6 122.1L1077.9 128.0L1078.3 127.7L1078.6 131.9L1079.0 123.2L1079.3 126.3L1079.7 125.1L1080.0 131.1L1080.4 131.4L1080.7 132.3L1081.1 138.6L1081.5 132.5L1081.8 133.8L1082.2 128.0L1082.5 128.5L1082.9 134.2L1083.2 138.0L1083.6 133.6L1083.9 132.8L1084.3 140.7L1084.6 135.0L1085.0 135.6L1085.4 137.3L1085.7 134.2L1086.1 143.6L1086.4 144.6L1086.8 145.9L1087.1 147.5L1087.5 135.4L1087.8 147.9L1088.2 142.7L1088.5 147.4L1088.9 140.8L1089.2 146.5L1089.6 150.2L1090.0 143.2L1090.3 139.3L1090.7 139.0L1091.0 143.6L1091.4 139.9L1091.7 135.1L1092.1 142.3L1092.4 146.9L1092.8 142.8L1093.1 144.8L1093.5 142.8L1093.9 140.4L1094.2 139.3L1094.6 138.2L1094.9 139.5L1095.3 140.9L1095.6 134.6L1096.0 135.5L1096.3 141.8L1096.7 136.8L1097.0 141.1L1097.4 140.3L1097.7 136.0L1098.1 139.5L1098.5 138.0L1098.8 134.8L1099.2 136.0L1099.5 135.1L1099.9 136.4L1100.2 137.0L1100.6 137.2L1100.9 130.6L1101.3 134.5L1101.6 128.3L1102.0 126.8L1102.4 133.3L1102.7 131.5L1103.1 121.4L1103.4 129.1L1103.8 132.7L1104.1 132.9L1104.5 125.5L1104.8 131.1L1105.2 130.1L1105.5 136.5L1105.9 137.8L1106.2 135.4L1106.6 132.7L1107.0 131.9L1107.3 139.4L1107.7 126.3L1108.0 136.9L1108.4 137.2L1108.7 135.5L1109.1 132.6L1109.4 133.6L1109.8 135.6L1110.1 130.3L1110.5 137.0L1110.9 132.6L1111.2 131.9L1111.6 123.3L1111.9 128.1L1112.3 133.2L1112.6 132.5L1113.0 135.5L1113.3 127.2L1113.7 138.0L1114.0 137.4L1114.4 134.3L1114.7 132.3L1115.1 131.0L1115.5 132.7L1115.8 134.7L1116.2 135.4L1116.5 137.9L1116.9 138.7L1117.2 140.6L1117.6 142.7L1117.9 135.5L1118.3 134.5L1118.6 139.6L1119.0 133.2L1119.4 138.9L1119.7 133.8L1120.1 127.2L1120.4 135.8L1120.8 135.2L1121.1 130.8L1121.5 126.3L1121.8 136.7L1122.2 135.9L1122.5 138.4L1122.9 137.0L1123.2 129.9L1123.6 124.8L1124.0 131.1L1124.3 136.0L1124.7 131.6L1125.0 126.1L1125.4 125.0L1125.7 120.7L1126.1 131.2L1126.4 132.3L1126.8 122.7L1127.1 128.1L1127.5 137.3L1127.9 121.1L1128.2 134.3L1128.6 134.3L1128.9 132.8L1129.3 133.8L1129.6 134.7L1130.0 134.5L1130.3 139.8L1130.7 129.1L1131.0 127.3L1131.4 125.5L1131.7 133.0L1132.1 136.9" stroke="#0000ff"/>
<path d="M112.5 115.1L112.9 112.3L113.2 109.1L113.6 106.2L113.9 103.7L114.3 112.1L114.6 110.5L115.0 107.3L115.3 111.3L115.7 114.4L116.0 114.2L116.4 114.2L116.7 110.6L117.1 114.9L117.5 112.3L117.8 115.6L118.2 121.5L118.5 104.9L118.9 110.8L119.2 111.6L119.6 110.1L119.9 117.0L120.3 112.3L120.6 120.5L121.0 115.7L121.4 115.6L121.7 116.6L122.1 117.6L122.4 114.0L122.8 115.9L123.1 113.3L123.5 116.0L123.8 115.3L124.2 116.0L124.5 109.2L124.9 115.4L125.2 116.6L125.6 122.9L126.0 109.5L126.3 113.1L126.7 115.7L127.0 110.6L127.4 117.1L127.7 118.1L128.1 112.9L128.4 116.1L128.8 116.7L129.1 114.2L129.5 116.5L129.9 117.5L130.2 112.5L130.6 117.1L130.9 118.7L131.3 113.0L131.6 120.3L132.0 117.2L132.3 116.1L132.7 117.2L133.0 117.1L133.4 121.1L133.7 117.9L134.1 117.7L134.5 114.0L134.8 118.5L135.2 114.4L135.5 115.0L135.9 117.7L136.2 114.8L136.6 112.2L136.9 114.2L137.3 118.5L137.6 116.4L138.0 120.1L138.4 121.3L138.7 115.8L139.1 109.9L139.4 112.9L139.8 121.1L140.1 120.8L140.5 121.6L140.8 120.9L141.2 113.9L141.5 118.1L141.9 121.0L142.2 116.9L142.6 119.2L143.0 110.9L143.3 110.6L143.7 124.4L144.0 118.6L144.4 120.0L144.7 122.3L145.1 125.4L145.4 125.0L145.8 106.7L146.1 125.6L146.5 118.1L146.9 105.9L147.2 105.4L147.6 110.4L147.9 116.2L148.3 112.4L148.6 117.6L149.0 111.8L149.3 115.6L149.7 120.3L150.0 116.2L150.4 111.5L150.7 112.3L151.1 99.7L151.5 108.3L151.8 96.5L152.2 98.7L152.5 99.7L152.9 97.6L153.2 87.4L153.6 95.6L153.9 98.5L154.3 97.2L154.6 98.8L155.0 97.0L155.4 88.1L155.7 93.4L156.1 93.8L156.4 91.0L156.8 94.3L157.1 90.4L157.5 100.2L157.8 87.4L158.2 93.9L158.5 98.2L158.9 88.5L159.2 92.5L159.6 98.6L160.0 93.4L160.3 90.4L160.7 85.5L161.0 95.0L161.4 93.6L161.7 88.6L162.1 90.8L162.4 89.9L162.8 92.2L163.1 90.6L163.5 88.7L163.9 91.2L164.2 90.6L164.6 92.1L164.9 96.1L165.3 94.0L165.6 88.2L166.0 98.3L166.3 91.0L166.7 96.0L167.0 86.1L167.4 92.0L167.7 96.9L168.1 96.2L168.5 92.6L168.8 89.8L169.2 88.0L169.5 88.6L169.9 85.5L170.2 84.1L170.6 85.0L170.9 85.5L171.3 90.7L171.6 85.1L172.0 94.0L172.4 96.9L172.7 90.0L173.1 91.2L173.4 95.8L173.8 95.0L174.1 100.8L174.5 90.9L174.8 96.1L175.2 102.6L175.5 96.6L175.9 105.3L176.2 108.6L176.6 97.3L177.0 104.7L177.3 101.8L177.7 100.2L178.0 101.9L178.4 103.7L178.7 101.2L179.1 105.3L179.4 107.4L179.8 109.7L180.1 104.8L180.5 107.6L180.9 106.0L181.2 96.2L181.6 109.3L181.9 101.6L182.3 99.8L182.6 108.8L183.0 108.9L183.3 98.4L183.7 98.0L184.0 98.5L184.4 98.5L184.7 100.3L185.1 98.4L185.5 92.5L185.8 102.5L186.2 93.1L186.5 93.6L186.9 99.7L187.2 94.6L187.6 99.4L187.9 98.8L188.3 99.1L188.6 93.1L189.0 94.7L189.4 86.9L189.7 88.2L190.1 90.9L190.4 92.1L190.8 98.9L191.1 91.7L191.5 83.6L191.8 91.8L192.2 91.4L192.5 92.6L192.9 85.4L193.2 88.8L193.6 91.5L194.0 93.9L194.3 96.7L194.7 101.0L195.0 93.8L195.4 97.8L195.7 100.3L196.1 100.1L196.4 97.8L196.8 95.0L197.1 94.1L197.5 92.6L197.9 88.7L198.2 95.1L198.6 99.4L198.9 101.1L199.3 91.2L199.6 97.7L200.0 90.7L200.3 101.1L200.7 101.0L201.0 102.2L201.4 98.0L201.7 91.8L202.1 94.9L202.5 96.8L202.8 91.2L203.2 95.9L203.5 107.7L203.9 95.2L204.2 101.5L204.6 92.5L204.9 105.8L205.3 102.0L205.6 99.2L206.0 102.0L206.3 103.3L206.7 91.0L207.1 96.0L207.4 95.5L207.8 94.6L208.1 98.8L208.5 94.2L208.8 98.5L209.2 101.0L209.5 98.6L209.9 100.2L210.2 96.2L210.6 99.3L211.0 100.6L211.3 99.8L211.7 96.5L212.0 102.8L212.4 99.5L212.7 104.7L213.1 99.9L213.4 97.2L213.8 97.9L214.1 93.9L214.5 89.9L214.8 90.6L215.2 86.6L215.6 96.4L215.9 94.5L216.3 93.1L216.6 92.1L217.0 93.6L217.3 87.8L217.7 88.0L218.0 94.2L218.4 87.5L218.7 100.6L219.1 87.3L219.5 96.8L219.8 95.3L220.2 97.6L220.5 97.4L220.9 88.6L221.2 99.2L221.6 97.8L221.9 96.2L222.3 88.2L222.6 100.9L223.0 94.0L223.3 97.2L223.7 102.6L224.1 101.5L224.4 96.5L224.8 91.2L225.1 100.9L225.5 102.3L225.8 95.4L226.2 93.0L226.5 98.7L226.9 91.6L227.2 104.2L227.6 98.5L228.0 97.3L228.3 99.9L228.7 92.6L229.0 100.0L229.4 97.7L229.7 102.7L230.1 95.6L230.4 100.5L230.8 93.7L231.1 98.8L231.5 92.7L231.8 99.4L232.2 93.0L232.6 102.5L232.9 104.8L233.3 105.1L233.6 107.3L234.0 99.0L234.3 100.4L234.7 102.2L235.0 99.4L235.4 94.5L235.7 99.0L236.1 100.4L236.5 105.0L236.8 101.8L237.2 103.8L237.5 105.5L237.9 105.7L238.2 113.8L238.6 106.8L238.9 102.6L239.3 110.9L239.6 102.6L240.0 103.6L240.3 106.8L240.7 103.8L241.1 105.1L241.4 110.0L241.8 103.3L242.1 105.1L242.5 101.9L242.8 99.9L243.2 98.6L243.5 105.1L243.9 105.0L244.2 101.3L244.6 98.8L245.0 96.3L245.3 104.6L245.7 103.2L246.0 112.9L246.4 97.4L246.7 104.8L247.1 102.4L247.4 104.4L247.8 106.8L248.1 101.8L248.5 99.7L248.8 104.9L249.2 100.3L249.6 111.1L249.9 107.5L250.3 101.3L250.6 111.6L251.0 110.7L251.3 114.8L251.7 112.6L252.0 108.9L252.4 105.7L252.7 100.2L253.1 105.2L253.5 106.0L253.8 102.9L254.2 104.9L254.5 101.3L254.9 108.6L255.2 103.5L255.6 104.1L255.9 100.0L256.3 105.0L256.6 99.2L257.0 96.4L257.3 100.4L257.7 94.6L258.1 100.2L258.4 91.3L258.8 92.0L259.1 104.2L259.5 94.2L259.8 96.9L260.2 93.2L260.5 97.7L260.9 104.4L261.2 88.4L261.6 98.6L262.0 96.1L262.3 95.8L262.7 91.2L263.0 90.0L263.4 99.4L263.7 97.0L264.1 89.8L264.4 98.9L264.8 93.3L265.1 107.9L265.5 100.1L265.8 91.6L266.2 103.9L266.6 102.3L266.9 103.0L267.3 104.0L267.6 99.9L268.0 102.6L268.3 94.8L268.7 111.1L269.0 113.0L269.4 105.9L269.7 103.9L270.1 106.3L270.5 97.6L270.8 92.7L271.2 91.7L271.5 98.1L271.9 101.5L272.2 98.1L272.6 105.5L272.9 99.0L273.3 86.4L273.6 91.8L274.0 97.2L274.3 92.2L274.7 97.1L275.1 87.0L275.4 98.0L275.8 89.9L276.1 96.5L276.5 103.3L276.8 96.4L277.2 94.4L277.5 99.3L277.9 94.1L278.2 93.3L278.6 99.2L279.0 92.1L279.3 93.3L279.7 108.8L280.0 96.2L280.4 103.5L280.7 105.1L281.1 100.6L281.4 97.6L281.8 103.3L282.1 96.1L282.5 107.6L282.8 107.8L283.2 95.9L283.6 103.0L283.9 98.7L284.3 102.7L284.6 99.3L285.0 94.5L285.3 98.9L285.7 89.7L286.0 97.8L286.4 95.3L286.7 91.0L287.1 98.1L287.5 93.5L287.8 90.9L288.2 91.2L288.5 91.6L288.9 92.7L289.2 86.7L289.6 79.7L289.9 79.3L290.3 83.3L290.6 82.6L291.0 89.0L291.3 84.9L291.7 95.6L292.1 98.3L292.4 88.1L292.8 97.5L293.1 93.6L293.5 98.4L293.8 95.6L294.2 93.9L294.5 97.5L294.9 93.7L295.2 87.3L295.6 96.2L296.0 97.4L296.3 94.9L296.7 95.6L297.0 91.1L297.4 94.6L297.7 92.9L298.1 86.5L298.4 93.1L298.8 101.4L299.1 97.4L299.5 99.4L299.8 93.3L300.2 92.1L300.6 96.7L300.9 92.0L301.3 97.4L301.6 97.1L302.0 98.4L302.3 95.1L302.7 96.9L303.0 93.8L303.4 100.6L303.7 100.4L304.1 95.1L304.4 96.8L304.8 87.5L305.2 97.5L305.5 90.8L305.9 89.7L306.2 93.5L306.6 92.5L306.9 86.7L307.3 95.4L307.6 97.6L308.0 98.0L308.3 97.6L308.7 90.8L309.1 96.1L309.4 86.6L309.8 86.3L310.1 90.2L310.5 89.6L310.8 84.8L311.2 94.1L311.5 79.5L311.9 87.9L312.2 83.3L312.6 92.9L312.9 89.3L313.3 87.4L313.7 87.5L314.0 89.9L314.4 91.1L314.7 90.9L315.1 90.0L315.4 86.6L315.8 98.9L316.1 93.2L316.5 96.9L316.8 95.5L317.2 97.6L317.6 90.1L317.9 96.6L318.3 96.8L318.6 93.6L319.0 94.4L319.3 96.5L319.7 93.0L320.0 95.1L320.4 91.5L320.7 102.8L321.1 97.8L321.4 96.6L321.8 102.6L322.2 102.4L322.5 97.2L322.9 95.1L323.2 102.7L323.6 103.3L323.9 93.1L324.3 105.4L324.6 93.0L325.0 103.6L325.3 100.1L325.7 100.5L326.1 104.5L326.4 110.6L326.8 111.3L327.1 108.0L327.5 105.0L327.8 96.3L328.2 98.1L328.5 102.3L328.9 99.7L329.2 101.8L329.6 97.8L329.9 106.2L330.3 99.2L330.7 93.2L331.0 96.1L331.4 95.8L331.7 101.8L332.1 105.0L332.4 101.1L332.8 103.7L333.1 97.4L333.5 98.1L333.8 102.7L334.2 105.2L334.6 101.8L334.9 105.0L335.3 107.2L335.6 102.8L336.0 107.4L336.3 100.0L336.7 104.5L337.0 109.5L337.4 103.3L337.7 97.8L338.1 96.1L338.4 97.2L338.8 93.0L339.2 93.1L339.5 99.6L339.9 95.3L340.2 103.9L340.6 108.1L340.9 96.5L341.3 101.5L341.6 99.0L342.0 92.1L342.3 99.0L342.7 104.8L343.1 94.9L343.4 99.6L343.8 98.5L344.1 92.9L344.5 99.6L344.8 96.9L345.2 99.8L345.5 98.5L345.9 92.7L346.2 97.7L346.6 98.5L346.9 97.4L347.3 101.5L347.7 99.7L348.0 88.2L348.4 101.2L348.7 92.8L349.1 95.4L349.4 100.9L349.8 95.3L350.1 95.7L350.5 103.7L350.8 92.6L351.2 100.0L351.6 103.4L351.9 103.1L352.3 92.6L352.6 91.1L353.0 99.1L353.3 106.0L353.7 95.1L354.0 93.6L354.4 94.6L354.7 99.5L355.1 101.1L355.4 95.4L355.8 97.9L356.2 99.4L356.5 107.4L356.9 96.8L357.2 92.3L357.6 99.4L357.9 97.0L358.3 97.9L358.6 95.5L359.0 92.7L359.3 97.7L359.7 99.3L360.1 97.3L360.4 91.8L360.8 96.6L361.1 100.4L361.5 94.2L361.8 97.1L362.2 88.1L362.5 89.2L362.9 96.2L363.2 93.9L363.6 89.3L363.9 89.6L364.3 99.0L364.7 96.7L365.0 90.2L365.4 94.6L365.7 91.2L366.1 90.5L366.4 86.8L366.8 93.8L367.1 98.3L367.5 93.3L367.8 85.9L368.2 92.9L368.6 86.4L368.9 95.8L369.3 95.5L369.6 96.6L370.0 90.2L370.3 90.8L370.7 88.4L371.0 88.4L371.4 95.4L371.7 85.7L372.1 83.6L372.4 96.3L372.8 96.0L373.2 83.7L373.5 93.8L373.9 93.0L374.2 89.6L374.6 87.6L374.9 90.0L375.3 90.3L375.6 93.5L376.0 88.8L376.3 96.9L376.7 92.9L377.1 103.9L377.4 102.0L377.8 102.7L378.1 97.2L378.5 100.0L378.8 103.5L379.2 109.6L379.5 102.3L379.9 103.7L380.2 105.8L380.6 108.0L380.9 106.5L381.3 107.9L381.7 104.0L382.0 108.4L382.4 107.8L382.7 115.9L383.1 108.1L383.4 108.2L383.8 100.6L384.1 105.1L384.5 109.1L384.8 103.2L385.2 104.1L385.6 105.3L385.9 108.7L386.3 108.3L386.6 110.0L387.0 106.4L387.3 104.0L387.7 105.3L388.0 98.4L388.4 102.0L388.7 107.3L389.1 107.1L389.4 100.8L389.8 109.1L390.2 97.7L390.5 93.9L390.9 100.2L391.2 97.9L391.6 103.2L391.9 92.2L392.3 92.7L392.6 96.3L393.0 92.0L393.3 87.8L393.7 90.4L394.0 87.7L394.4 88.4L394.8 88.1L395.1 80.6L395.5 89.7L395.8 83.0L396.2 85.1L396.5 83.9L396.9 88.4L397.2 93.1L397.6 94.5L397.9 90.3L398.3 89.9L398.7 88.8L399.0 87.3L399.4 90.3L399.7 88.3L400.1 85.4L400.4 90.0L400.8 87.0L401.1 99.1L401.5 91.9L401.8 89.0L402.2 93.0L402.5 88.1L402.9 90.2L403.3 98.0L403.6 96.9L404.0 87.3L404.3 85.5L404.7 87.4L405.0 95.3L405.4 87.8L405.7 87.2L406.1 85.9L406.4 96.6L406.8 94.2L407.2 85.2L407.5 88.6L407.9 83.5L408.2 84.5L408.6 86.1L408.9 85.5L409.3 88.0L409.6 90.5L410.0 90.4L410.3 86.0L410.7 89.8L411.0 81.8L411.4 92.5L411.8 96.8L412.1 86.7L412.5 88.8L412.8 87.2L413.2 75.0L413.5 87.8L413.9 86.3L414.2 79.6L414.6 82.5L414.9 87.5L415.3 86.6L415.7 79.6L416.0 84.4L416.4 82.7L416.7 86.1L417.1 81.9L417.4 85.2L417.8 83.7L418.1 79.5L418.5 88.1L418.8 88.3L419.2 82.2L419.5 88.9L419.9 95.3L420.3 79.1L420.6 84.8L421.0 87.3L421.3 85.1L421.7 82.2L422.0 90.7L422.4 81.1L422.7 82.9L423.1 84.4L423.4 90.4L423.8 81.6L424.2 89.0L424.5 91.4L424.9 96.8L425.2 97.2L425.6 101.1L425.9 96.1L426.3 94.1L426.6 95.6L427.0 90.9L427.3 92.4L427.7 92.3L428.0 96.7L428.4 101.0L428.8 93.9L429.1 96.4L429.5 99.4L429.8 97.8L430.2 97.4L430.5 100.4L430.9 97.2L431.2 89.7L431.6 98.7L431.9 88.7L432.3 100.2L432.7 96.8L433.0 98.4L433.4 93.2L433.7 100.0L434.1 99.3L434.4 96.2L434.8 101.9L435.1 103.4L435.5 108.1L435.8 98.5L436.2 97.8L436.5 107.2L436.9 102.3L437.3 102.7L437.6 96.8L438.0 98.4L438.3 101.6L438.7 94.2L439.0 94.9L439.4 98.1L439.7 101.4L440.1 95.0L440.4 98.3L440.8 91.3L441.2 89.0L441.5 95.1L441.9 89.2L442.2 91.8L442.6 89.4L442.9 94.0L443.3 90.2L443.6 90.5L444.0 86.2L444.3 90.0L444.7 95.0L445.0 93.7L445.4 93.4L445.8 92.9L446.1 94.7L446.5 90.1L446.8 94.5L447.2 96.1L447.5 95.2L447.9 92.5L448.2 93.8L448.6 89.6L448.9 91.0L449.3 87.0L449.7 90.0L450.0 97.8L450.4 88.8L450.7 92.3L451.1 93.6L451.4 95.3L451.8 90.5L452.1 82.7L452.5 95.9L452.8 92.3L453.2 93.8L453.5 85.9L453.9 90.1L454.3 86.2L454.6 87.0L455.0 81.7L455.3 80.7L455.7 81.1L456.0 83.1L456.4 88.4L456.7 86.8L457.1 78.5L457.4 89.4L457.8 83.4L458.2 88.9L458.5 87.3L458.9 87.3L459.2 84.8L459.6 81.1L459.9 92.0L460.3 75.4L460.6 78.4L461.0 86.2L461.3 79.5L461.7 80.5L462.0 78.3L462.4 76.1L462.8 83.4L463.1 79.5L463.5 87.3L463.8 82.8L464.2 75.8L464.5 78.1L464.9 78.0L465.2 80.0L465.6 83.3L465.9 74.4L466.3 76.8L466.7 76.8L467.0 73.6L467.4 79.6L467.7 72.5L468.1 76.4L468.4 66.5L468.8 75.4L469.1 77.1L469.5 82.0L469.8 76.3L470.2 76.1L470.5 74.7L470.9 78.1L471.3 90.0L471.6 75.4L472.0 75.5L472.3 81.3L472.7 77.8L473.0 85.4L473.4 75.0L473.7 87.6L474.1 81.7L474.4 79.6L474.8 77.4L475.2 83.9L475.5 87.2L475.9 92.1L476.2 84.8L476.6 97.7L476.9 93.8L477.3 91.7L477.6 90.9L478.0 101.4L478.3 91.2L478.7 98.7L479.0 101.4L479.4 92.0L479.8 95.2L480.1 92.3L480.5 97.5L480.8 99.0L481.2 96.7L481.5 95.4L481.9 92.4L482.2 105.8L482.6 103.0L482.9 101.0L483.3 103.8L483.6 97.2L484.0 94.0L484.4 101.8L484.7 93.8L485.1 94.7L485.4 99.2L485.8 92.8L486.1 98.4L486.5 96.1L486.8 90.8L487.2 88.5L487.5 89.4L487.9 89.2L488.3 90.7L488.6 82.8L489.0 86.7L489.3 81.1L489.7 82.1L490.0 87.1L490.4 81.4L490.7 82.4L491.1 81.2L491.4 85.3L491.8 87.6L492.1 84.8L492.5 87.2L492.9 80.3L493.2 87.7L493.6 85.0L493.9 86.0L494.3 80.3L494.6 79.4L495.0 82.7L495.3 76.1L495.7 84.3L496.0 79.7L496.4 83.9L496.8 78.2L497.1 76.4L497.5 85.0L497.8 84.5L498.2 80.9L498.5 86.1L498.9 80.9L499.2 83.1L499.6 82.3L499.9 78.4L500.3 87.8L500.6 80.2L501.0 90.3L501.4 80.4L501.7 75.4L502.1 79.2L502.4 81.9L502.8 81.2L503.1 83.2L503.5 78.3L503.8 70.8L504.2 74.9L504.5 77.9L504.9 80.1L505.3 68.9L505.6 78.1L506.0 83.8L506.3 73.9L506.7 86.1L507.0 77.3L507.4 80.6L507.7 75.4L508.1 91.6L508.4 81.3L508.8 77.2L509.1 75.9L509.5 72.2L509.9 75.2L510.2 74.1L510.6 76.6L510.9 70.1L511.3 80.5L511.6 80.0L512.0 82.2L512.3 75.3L512.7 78.3L513.0 73.4L513.4 83.6L513.8 80.2L514.1 88.4L514.5 84.7L514.8 86.6L515.2 88.8L515.5 83.2L515.9 93.4L516.2 85.6L516.6 94.1L516.9 98.1L517.3 91.3L517.6 98.0L518.0 101.4L518.4 105.8L518.7 107.1L519.1 105.2L519.4 102.3L519.8 106.6L520.1 115.1L520.5 104.1L520.8 111.1L521.2 99.3L521.5 100.5L521.9 105.9L522.3 103.5L522.6 106.5L523.0 102.8L523.3 98.2L523.7 100.1L524.0 106.7L524.4 101.7L524.7 99.4L525.1 101.3L525.4 95.1L525.8 97.5L526.1 97.6L526.5 97.6L526.9 99.3L527.2 103.1L527.6 98.4L527.9 99.2L528.3 97.5L528.6 91.5L529.0 91.7L529.3 94.8L529.7 96.8L530.0 90.2L530.4 84.6L530.8 90.4L531.1 86.9L531.5 89.5L531.8 89.6L532.2 88.2L532.5 85.6L532.9 83.7L533.2 86.3L533.6 87.3L533.9 86.1L534.3 83.2L534.6 82.5L535.0 87.7L535.4 87.3L535.7 87.1L536.1 82.1L536.4 86.0L536.8 97.7L537.1 84.3L537.5 86.7L537.8 94.4L538.2 86.7L538.5 88.6L538.9 96.1L539.3 95.3L539.6 86.4L540.0 96.5L540.3 93.4L540.7 91.1L541.0 103.6L541.4 97.6L541.7 101.6L542.1 100.0L542.4 106.4L542.8 107.4L543.1 105.7L543.5 111.1L543.9 104.9L544.2 101.5L544.6 106.6L544.9 104.2L545.3 105.5L545.6 93.5L546.0 105.6L546.3 111.8L546.7 106.2L547.0 101.8L547.4 110.5L547.8 103.9L548.1 109.1L548.5 103.7L548.8 98.6L549.2 92.6L549.5 97.9L549.9 98.1L550.2 91.8L550.6 87.2L550.9 95.6L551.3 89.9L551.6 96.0L552.0 90.0L552.4 94.2L552.7 89.8L553.1 91.2L553.4 92.5L553.8 80.1L554.1 84.7L554.5 85.3L554.8 85.3L555.2 87.3L555.5 92.6L555.9 83.5L556.3 88.9L556.6 88.2L557.0 85.2L557.3 81.7L557.7 84.7L558.0 82.7L558.4 90.3L558.7 94.4L559.1 91.6L559.4 88.9L559.8 84.7L560.1 91.9L560.5 85.0L560.9 86.3L561.2 90.9L561.6 88.5L561.9 95.4L562.3 93.3L562.6 90.0L563.0 88.5L563.3 89.9L563.7 89.5L564.0 88.2L564.4 91.7L564.8 87.4L565.1 85.8L565.5 85.2L565.8 88.4L566.2 86.8L566.5 89.3L566.9 96.4L567.2 88.4L567.6 90.4L567.9 92.5L568.3 92.8L568.6 94.8L569.0 102.2L569.4 103.4L569.7 93.8L570.1 95.9L570.4 100.5L570.8 98.3L571.1 97.3L571.5 99.9L571.8 98.5L572.2 97.0L572.5 100.0L572.9 96.7L573.3 95.5L573.6 97.9L574.0 90.3L574.3 97.7L574.7 90.1L575.0 90.9L575.4 94.6L575.7 95.2L576.1 96.0L576.4 96.2L576.8 89.0L577.1 91.2L577.5 90.3L577.9 90.3L578.2 95.4L578.6 91.0L578.9 92.0L579.3 94.2L579.6 91.7L580.0 98.0L580.3 88.6L580.7 98.2L581.0 94.6L581.4 91.1L581.7 101.8L582.1 89.8L582.5 96.3L582.8 93.7L583.2 96.1L583.5 103.5L583.9 100.2L584.2 97.5L584.6 100.2L584.9 100.3L585.3 101.2L585.6 99.6L586.0 100.6L586.4 101.0L586.7 103.2L587.1 107.4L587.4 95.6L587.8 105.7L588.1 101.6L588.5 101.5L588.8 109.3L589.2 101.0L589.5 107.7L589.9 102.1L590.2 102.5L590.6 101.0L591.0 110.5L591.3 102.9L591.7 105.8L592.0 101.2L592.4 106.4L592.7 112.1L593.1 104.5L593.4 109.5L593.8 109.9L594.1 111.9L594.5 112.8L594.9 117.2L595.2 111.8L595.6 110.2L595.9 104.9L596.3 112.8L596.6 109.5L597.0 112.6L597.3 113.0L597.7 111.8L598.0 113.8L598.4 113.2L598.7 113.7L599.1 112.3L599.5 109.2L599.8 109.2L600.2 114.6L600.5 106.0L600.9 106.9L601.2 108.4L601.6 112.4L601.9 107.1L602.3 106.7L602.6 104.9L603.0 110.0L603.4 109.8L603.7 109.3L604.1 110.4L604.4 118.3L604.8 109.0L605.1 99.9L605.5 102.1L605.8 104.6L606.2 107.6L606.5 103.6L606.9 109.7L607.2 104.2L607.6 108.9L608.0 107.3L608.3 113.3L608.7 112.8L609.0 108.6L609.4 119.6L609.7 107.3L610.1 111.1L610.4 109.1L610.8 118.4L611.1 116.3L611.5 115.4L611.9 103.6L612.2 113.9L612.6 116.8L612.9 108.4L613.3 111.6L613.6 113.7L614.0 110.5L614.3 105.8L614.7 110.7L615.0 111.0L615.4 115.9L615.7 106.9L616.1 112.3L616.5 112.7L616.8 106.2L617.2 105.8L617.5 112.0L617.9 116.7L618.2 115.0L618.6 119.8L618.9 114.0L619.3 109.5L619.6 114.3L620.0 112.6L620.4 103.9L620.7 115.9L621.1 108.1L621.4 111.2L621.8 120.4L622.1 110.3L622.5 107.5L622.8 112.8L623.2 116.1L623.5 102.2L623.9 104.5L624.2 117.9L624.6 113.9L625.0 112.2L625.3 116.6L625.7 107.0L626.0 110.5L626.4 113.7L626.7 101.2L627.1 110.5L627.4 104.5L627.8 107.0L628.1 98.5L628.5 104.6L628.9 106.2L629.2 101.9L629.6 108.5L629.9 98.3L630.3 107.8L630.6 100.1L631.0 107.7L631.3 106.2L631.7 98.0L632.0 108.6L632.4 103.9L632.7 97.4L633.1 102.0L633.5 106.9L633.8 103.0L634.2 105.7L634.5 108.5L634.9 104.5L635.2 102.6L635.6 101.3L635.9 102.3L636.3 105.7L636.6 98.2L637.0 100.4L637.4 102.9L637.7 96.3L638.1 103.1L638.4 101.5L638.8 101.3L639.1 96.8L639.5 99.3L639.8 104.2L640.2 95.1L640.5 102.2L640.9 103.0L641.2 97.5L641.6 89.7L642.0 92.8L642.3 96.5L642.7 99.5L643.0 89.7L643.4 96.9L643.7 97.6L644.1 91.5L644.4 96.2L644.8 93.1L645.1 88.2L645.5 99.7L645.9 92.5L646.2 90.0L646.6 92.1L646.9 104.3L647.3 100.3L647.6 96.5L648.0 92.1L648.3 95.8L648.7 94.8L649.0 97.3L649.4 89.0L649.7 105.8L650.1 97.2L650.5 89.7L650.8 88.3L651.2 88.3L651.5 84.2L651.9 90.8L652.2 91.8L652.6 100.7L652.9 91.7L653.3 92.4L653.6 96.7L654.0 85.8L654.4 96.2L654.7 89.8L655.1 94.3L655.4 90.4L655.8 93.1L656.1 81.5L656.5 86.9L656.8 82.5L657.2 88.9L657.5 88.9L657.9 92.8L658.2 97.2L658.6 95.3L659.0 92.4L659.3 92.5L659.7 89.6L660.0 92.6L660.4 91.3L660.7 90.8L661.1 95.4L661.4 90.1L661.8 90.2L662.1 88.8L662.5 88.5L662.9 89.1L663.2 98.4L663.6 93.2L663.9 96.1L664.3 100.7L664.6 95.6L665.0 90.2L665.3 91.4L665.7 93.7L666.0 98.8L666.4 94.4L666.7 96.1L667.1 101.5L667.5 101.9L667.8 100.7L668.2 101.4L668.5 109.3L668.9 102.1L669.2 99.8L669.6 108.3L669.9 99.3L670.3 98.5L670.6 108.7L671.0 104.5L671.3 104.1L671.7 103.7L672.1 100.1L672.4 104.5L672.8 97.5L673.1 102.3L673.5 105.2L673.8 97.7L674.2 104.9L674.5 99.1L674.9 103.5L675.2 98.9L675.6 91.3L676.0 90.2L676.3 101.0L676.7 96.4L677.0 96.8L677.4 90.1L677.7 92.5L678.1 86.7L678.4 97.2L678.8 98.5L679.1 92.5L679.5 97.9L679.8 92.6L680.2 95.9L680.6 92.5L680.9 91.3L681.3 96.6L681.6 87.6L682.0 101.7L682.3 89.1L682.7 88.4L683.0 97.9L683.4 91.5L683.7 99.5L684.1 90.1L684.5 102.2L684.8 100.9L685.2 93.3L685.5 106.6L685.9 95.2L686.2 98.1L686.6 96.3L686.9 99.5L687.3 100.4L687.6 97.6L688.0 99.3L688.3 97.1L688.7 99.4L689.1 93.2L689.4 97.3L689.8 93.4L690.1 99.8L690.5 101.9L690.8 100.7L691.2 97.7L691.5 106.2L691.9 96.1L692.2 102.6L692.6 97.3L693.0 101.5L693.3 100.8L693.7 97.4L694.0 98.3L694.4 92.8L694.7 90.3L695.1 97.0L695.4 93.4L695.8 87.7L696.1 94.2L696.5 89.5L696.8 87.5L697.2 94.1L697.6 95.2L697.9 93.2L698.3 89.9L698.6 86.5L699.0 89.9L699.3 90.8L699.7 88.7L700.0 100.0L700.4 89.8L700.7 91.4L701.1 89.4L701.5 91.9L701.8 93.7L702.2 97.4L702.5 89.1L702.9 100.9L703.2 99.0L703.6 96.3L703.9 90.1L704.3 88.0L704.6 90.2L705.0 95.1L705.3 96.2L705.7 93.1L706.1 96.0L706.4 90.9L706.8 91.3L707.1 100.7L707.5 98.2L707.8 98.5L708.2 99.7L708.5 94.4L708.9 84.2L709.2 94.3L709.6 100.6L710.0 96.5L710.3 101.7L710.7 102.1L711.0 95.1L711.4 102.2L711.7 102.7L712.1 98.2L712.4 110.3L712.8 105.2L713.1 117.0L713.5 110.1L713.8 106.9L714.2 106.9L714.6 112.6L714.9 113.4L715.3 118.3L715.6 114.0L716.0 115.7L716.3 113.8L716.7 116.7L717.0 108.2L717.4 101.7L717.7 109.7L718.1 105.9L718.5 105.1L718.8 115.4L719.2 103.2L719.5 107.5L719.9 110.5L720.2 104.6L720.6 102.9L720.9 104.8L721.3 102.2L721.6 96.8L722.0 99.9L722.3 115.5L722.7 103.7L723.1 96.4L723.4 100.5L723.8 101.7L724.1 102.8L724.5 104.4L724.8 102.0L725.2 98.2L725.5 95.7L725.9 99.0L726.2 92.3L726.6 91.0L727.0 101.0L727.3 102.8L727.7 101.2L728.0 98.3L728.4 87.7L728.7 87.4L729.1 92.6L729.4 101.6L729.8 91.5L730.1 93.2L730.5 90.4L730.8 96.4L731.2 85.6L731.6 97.8L731.9 93.6L732.3 85.6L732.6 98.7L733.0 98.9L733.3 99.5L733.7 97.4L734.0 96.3L734.4 96.7L734.7 99.6L735.1 97.1L735.5 104.4L735.8 92.8L736.2 96.5L736.5 93.9L736.9 90.1L737.2 103.0L737.6 100.5L737.9 98.3L738.3 97.5L738.6 101.1L739.0 107.5L739.3 103.4L739.7 100.8L740.1 105.1L740.4 102.0L740.8 106.7L741.1 107.8L741.5 109.2L741.8 106.4L742.2 105.9L742.5 100.0L742.9 108.6L743.2 112.0L743.6 100.2L744.0 109.4L744.3 104.4L744.7 104.6L745.0 103.9L745.4 108.8L745.7 106.4L746.1 108.0L746.4 103.6L746.8 115.8L747.1 105.4L747.5 115.3L747.8 114.4L748.2 109.5L748.6 100.1L748.9 102.2L749.3 96.8L749.6 106.9L750.0 101.1L750.3 102.3L750.7 100.1L751.0 100.1L751.4 101.5L751.7 106.7L752.1 101.1L752.5 102.1L752.8 99.6L753.2 101.6L753.5 96.2L753.9 100.1L754.2 97.6L754.6 101.3L754.9 90.8L755.3 88.9L755.6 97.2L756.0 101.0L756.3 98.2L756.7 98.9L757.1 107.8L757.4 103.9L757.8 106.7L758.1 103.5L758.5 106.9L758.8 100.9L759.2 97.7L759.5 105.0L759.9 106.9L760.2 102.2L760.6 94.0L761.0 106.5L761.3 107.8L761.7 103.1L762.0 99.4L762.4 97.0L762.7 94.9L763.1 105.7L763.4 99.0L763.8 99.4L764.1 97.2L764.5 98.0L764.8 98.1L765.2 97.1L765.6 101.3L765.9 98.1L766.3 98.2L766.6 95.4L767.0 102.9L767.3 108.5L767.7 106.4L768.0 108.2L768.4 102.4L768.7 103.8L769.1 104.5L769.4 103.4L769.8 111.7L770.2 112.9L770.5 105.3L770.9 110.6L771.2 105.2L771.6 112.5L771.9 112.3L772.3 106.7L772.6 114.9L773.0 109.6L773.3 110.5L773.7 113.8L774.1 101.2L774.4 107.1L774.8 102.6L775.1 108.7L775.5 103.9L775.8 103.2L776.2 106.6L776.5 109.5L776.9 101.2L777.2 99.3L777.6 98.2L777.9 103.7L778.3 91.8L778.7 93.5L779.0 94.1L779.4 94.3L779.7 96.1L780.1 91.8L780.4 86.4L780.8 102.6L781.1 97.2L781.5 93.4L781.8 90.3L782.2 88.3L782.6 96.7L782.9 88.0L783.3 93.4L783.6 94.3L784.0 99.2L784.3 93.8L784.7 91.1L785.0 98.1L785.4 96.0L785.7 88.9L786.1 91.7L786.4 97.0L786.8 88.6L787.2 92.3L787.5 89.5L787.9 97.3L788.2 98.8L788.6 84.0L788.9 90.2L789.3 94.5L789.6 89.4L790.0 87.8L790.3 83.3L790.7 82.7L791.1 88.9L791.4 94.2L791.8 94.8L792.1 100.4L792.5 84.8L792.8 103.2L793.2 92.1L793.5 99.6L793.9 90.5L794.2 98.0L794.6 88.5L794.9 97.8L795.3 90.1L795.7 90.1L796.0 93.3L796.4 90.1L796.7 94.4L797.1 94.3L797.4 90.5L797.8 96.0L798.1 91.1L798.5 89.7L798.8 90.1L799.2 84.1L799.6 87.4L799.9 94.4L800.3 94.5L800.6 93.0L801.0 98.9L801.3 92.3L801.7 93.4L802.0 96.5L802.4 96.3L802.7 98.6L803.1 94.4L803.4 98.5L803.8 95.8L804.2 95.3L804.5 96.7L804.9 97.4L805.2 100.7L805.6 96.2L805.9 97.3L806.3 98.5L806.6 101.1L807.0 98.7L807.3 103.5L807.7 105.9L808.1 102.6L808.4 95.7L808.8 97.5L809.1 94.7L809.5 95.1L809.8 100.5L810.2 91.6L810.5 97.3L810.9 92.9L811.2 92.4L811.6 102.3L811.9 90.7L812.3 99.9L812.7 89.7L813.0 94.9L813.4 95.2L813.7 95.6L814.1 95.7L814.4 91.2L814.8 93.3L815.1 100.2L815.5 96.5L815.8 102.8L816.2 97.0L816.6 95.5L816.9 92.6L817.3 92.5L817.6 100.7L818.0 94.3L818.3 94.6L818.7 94.9L819.0 98.7L819.4 105.5L819.7 96.4L820.1 91.5L820.4 97.0L820.8 104.2L821.2 101.5L821.5 100.5L821.9 105.9L822.2 101.3L822.6 99.0L822.9 105.7L823.3 102.8L823.6 103.9L824.0 110.8L824.3 95.8L824.7 108.9L825.1 96.2L825.4 104.5L825.8 94.7L826.1 107.9L826.5 97.7L826.8 98.4L827.2 99.1L827.5 108.3L827.9 109.6L828.2 97.7L828.6 95.9L828.9 102.7L829.3 96.3L829.7 116.0L830.0 108.4L830.4 105.4L830.7 96.0L831.1 101.1L831.4 107.9L831.8 101.3L832.1 108.1L832.5 104.4L832.8 106.2L833.2 101.7L833.6 101.7L833.9 96.4L834.3 101.9L834.6 99.1L835.0 106.0L835.3 97.7L835.7 105.1L836.0 106.4L836.4 105.3L836.7 95.6L837.1 95.7L837.4 104.5L837.8 99.4L838.2 98.8L838.5 99.3L838.9 95.6L839.2 95.2L839.6 101.7L839.9 98.9L840.3 99.6L840.6 98.0L841.0 96.6L841.3 104.2L841.7 100.4L842.1 95.1L842.4 106.4L842.8 89.8L843.1 99.0L843.5 94.9L843.8 93.1L844.2 92.6L844.5 96.8L844.9 100.6L845.2 101.7L845.6 98.8L845.9 95.2L846.3 95.1L846.7 99.9L847.0 97.9L847.4 101.1L847.7 106.5L848.1 99.0L848.4 102.0L848.8 101.6L849.1 98.5L849.5 107.0L849.8 95.6L850.2 97.6L850.6 94.3L850.9 99.8L851.3 100.8L851.6 105.9L852.0 108.5L852.3 108.2L852.7 105.9L853.0 106.3L853.4 101.7L853.7 100.2L854.1 111.1L854.4 113.4L854.8 107.0L855.2 110.5L855.5 112.0L855.9 109.7L856.2 103.2L856.6 101.8L856.9 105.3L857.3 108.8L857.6 100.4L858.0 108.5L858.3 102.4L858.7 105.9L859.0 108.9L859.4 103.7L859.8 106.5L860.1 112.1L860.5 110.0L860.8 107.8L861.2 110.6L861.5 113.4L861.9 114.0L862.2 104.1L862.6 110.1L862.9 118.7L863.3 112.1L863.7 110.8L864.0 111.5L864.4 113.0L864.7 110.8L865.1 111.8L865.4 106.3L865.8 111.8L866.1 122.9L866.5 110.3L866.8 117.1L867.2 106.9L867.5 108.9L867.9 103.4L868.3 104.9L868.6 104.4L869.0 98.1L869.3 108.2L869.7 103.0L870.0 103.5L870.4 101.2L870.7 101.3L871.1 103.2L871.4 107.7L871.8 99.4L872.2 103.7L872.5 106.5L872.9 101.7L873.2 101.6L873.6 106.4L873.9 108.1L874.3 107.8L874.6 100.2L875.0 104.2L875.3 103.7L875.7 108.7L876.0 103.7L876.4 102.3L876.8 110.9L877.1 101.4L877.5 111.3L877.8 110.6L878.2 105.0L878.5 107.3L878.9 110.4L879.2 116.7L879.6 109.3L879.9 110.1L880.3 114.7L880.7 110.9L881.0 107.1L881.4 112.2L881.7 113.7L882.1 117.5L882.4 117.5L882.8 116.1L883.1 112.0L883.5 116.5L883.8 109.7L884.2 109.8L884.5 108.6L884.9 107.2L885.3 110.5L885.6 113.7L886.0 110.2L886.3 113.8L886.7 109.2L887.0 104.6L887.4 109.8L887.7 111.7L888.1 103.5L888.4 102.5L888.8 105.4L889.2 105.9L889.5 94.5L889.9 97.5L890.2 94.5L890.6 88.0L890.9 91.2L891.3 92.7L891.6 91.2L892.0 99.4L892.3 83.0L892.7 90.2L893.0 92.1L893.4 90.8L893.8 91.2L894.1 93.3L894.5 93.7L894.8 89.9L895.2 91.7L895.5 88.1L895.9 84.4L896.2 88.0L896.6 94.3L896.9 87.7L897.3 87.3L897.7 91.5L898.0 91.4L898.4 91.7L898.7 94.8L899.1 98.2L899.4 100.5L899.8 94.8L900.1 90.3L900.5 91.4L900.8 90.4L901.2 94.7L901.5 98.7L901.9 98.4L902.3 99.4L902.6 106.2L903.0 91.3L903.3 101.1L903.7 94.6L904.0 91.6L904.4 92.7L904.7 92.3L905.1 100.8L905.4 96.8L905.8 100.6L906.2 89.8L906.5 99.2L906.9 95.0L907.2 99.1L907.6 92.9L907.9 99.3L908.3 99.5L908.6 100.1L909.0 103.1L909.3 103.9L909.7 104.0L910.0 98.2L910.4 104.2L910.8 97.1L911.1 100.0L911.5 108.0L911.8 96.7L912.2 113.8L912.5 113.0L912.9 104.2L913.2 103.4L913.6 100.6L913.9 104.3L914.3 103.5L914.7 98.9L915.0 105.2L915.4 98.7L915.7 102.2L916.1 107.7L916.4 107.2L916.8 106.6L917.1 104.8L917.5 113.1L917.8 105.0L918.2 99.1L918.5 105.2L918.9 95.4L919.3 104.5L919.6 102.8L920.0 109.7L920.3 111.1L920.7 104.6L921.0 107.0L921.4 107.9L921.7 101.1L922.1 102.1L922.4 111.1L922.8 100.3L923.2 104.6L923.5 112.7L923.9 101.5L924.2 107.9L924.6 92.9L924.9 95.1L925.3 103.6L925.6 100.7L926.0 98.5L926.3 99.0L926.7 101.2L927.0 104.7L927.4 95.3L927.8 99.5L928.1 105.2L928.5 101.2L928.8 103.8L929.2 95.9L929.5 106.0L929.9 105.4L930.2 104.0L930.6 103.5L930.9 107.8L931.3 98.3L931.7 106.2L932.0 102.5L932.4 101.3L932.7 110.4L933.1 106.9L933.4 108.7L933.8 110.8L934.1 105.6L934.5 111.5L934.8 103.1L935.2 105.4L935.5 102.5L935.9 104.4L936.3 97.7L936.6 104.0L937.0 105.3L937.3 104.6L937.7 102.3L938.0 99.8L938.4 99.6L938.7 103.2L939.1 100.9L939.4 95.5L939.8 103.7L940.2 102.5L940.5 110.8L940.9 98.1L941.2 102.3L941.6 101.1L941.9 104.0L942.3 105.8L942.6 96.3L943.0 104.2L943.3 102.0L943.7 109.0L944.0 101.8L944.4 103.8L944.8 104.3L945.1 99.7L945.5 115.4L945.8 105.8L946.2 109.0L946.5 108.1L946.9 110.2L947.2 112.6L947.6 107.0L947.9 117.5L948.3 113.5L948.6 115.0L949.0 119.4L949.4 113.6L949.7 122.5L950.1 116.8L950.4 114.0L950.8 111.9L951.1 114.2L951.5 115.5L951.8 113.5L952.2 106.8L952.5 106.3L952.9 101.0L953.3 111.4L953.6 108.7L954.0 105.8L954.3 102.8L954.7 102.4L955.0 102.4L955.4 100.8L955.7 99.9L956.1 98.0L956.4 105.4L956.8 106.3L957.1 91.3L957.5 97.2L957.9 92.0L958.2 92.7L958.6 97.5L958.9 87.4L959.3 99.7L959.6 89.0L960.0 96.6L960.3 93.7L960.7 93.0L961.0 94.5L961.4 91.0L961.8 104.0L962.1 89.7L962.5 89.3L962.8 94.1L963.2 95.7L963.5 111.6L963.9 97.9L964.2 94.8L964.6 97.0L964.9 96.6L965.3 96.2L965.6 100.1L966.0 97.0L966.4 98.2L966.7 104.5L967.1 97.0L967.4 99.7L967.8 102.5L968.1 96.1L968.5 101.8L968.8 97.7L969.2 106.6L969.5 99.3L969.9 100.1L970.3 97.3L970.6 102.5L971.0 104.5L971.3 95.0L971.7 94.0L972.0 95.8L972.4 101.1L972.7 98.0L973.1 95.2L973.4 97.0L973.8 98.2L974.1 100.7L974.5 94.5L974.9 94.0L975.2 101.3L975.6 111.2L975.9 104.2L976.3 105.2L976.6 107.6L977.0 99.1L977.3 107.8L977.7 103.7L978.0 100.8L978.4 106.3L978.8 106.5L979.1 112.5L979.5 110.3L979.8 108.6L980.2 112.6L980.5 119.9L980.9 117.7L981.2 108.0L981.6 111.5L981.9 108.7L982.3 108.6L982.6 112.8L983.0 112.0L983.4 106.9L983.7 100.2L984.1 103.5L984.4 104.0L984.8 106.3L985.1 108.5L985.5 109.5L985.8 107.0L986.2 108.4L986.5 102.4L986.9 103.6L987.3 110.6L987.6 107.2L988.0 109.6L988.3 109.3L988.7 106.5L989.0 104.6L989.4 108.8L989.7 105.3L990.1 108.6L990.4 109.1L990.8 103.9L991.1 110.6L991.5 103.5L991.9 107.5L992.2 97.0L992.6 102.8L992.9 94.4L993.3 96.7L993.6 94.7L994.0 99.1L994.3 99.9L994.7 97.1L995.0 105.5L995.4 102.7L995.8 94.2L996.1 96.2L996.5 95.8L996.8 98.1L997.2 96.4L997.5 89.6L997.9 100.8L998.2 100.9L998.6 99.1L998.9 100.8L999.3 100.8L999.6 96.3L1000.0 93.8L1000.4 101.6L1000.7 96.8L1001.1 101.0L1001.4 96.3L1001.8 103.8L1002.1 98.0L1002.5 101.3L1002.8 98.6L1003.2 95.5L1003.5 101.4L1003.9 100.7L1004.3 100.5L1004.6 106.7L1005.0 108.3L1005.3 110.1L1005.7 107.4L1006.0 104.5L1006.4 112.4L1006.7 106.0L1007.1 111.4L1007.4 112.5L1007.8 104.3L1008.1 111.2L1008.5 112.8L1008.9 108.2L1009.2 113.9L1009.6 105.1L1009.9 116.3L1010.3 120.0L1010.6 112.1L1011.0 115.5L1011.3 115.6L1011.7 113.1L1012.0 112.2L1012.4 114.3L1012.8 120.1L1013.1 110.6L1013.5 117.4L1013.8 126.2L1014.2 121.5L1014.5 117.9L1014.9 111.9L1015.2 105.3L1015.6 118.0L1015.9 119.0L1016.3 114.6L1016.6 110.5L1017.0 114.4L1017.4 108.7L1017.7 116.1L1018.1 110.3L1018.4 112.5L1018.8 104.5L1019.1 101.3L1019.5 100.5L1019.8 108.2L1020.2 102.1L1020.5 110.9L1020.9 107.8L1021.3 105.9L1021.6 98.9L1022.0 109.8L1022.3 112.3L1022.7 113.6L1023.0 105.7L1023.4 108.0L1023.7 110.4L1024.1 110.1L1024.4 111.9L1024.8 108.6L1025.1 107.9L1025.5 106.9L1025.9 109.8L1026.2 109.5L1026.6 107.0L1026.9 110.1L1027.3 100.8L1027.6 106.9L1028.0 101.8L1028.3 101.8L1028.7 107.4L1029.0 103.7L1029.4 103.0L1029.8 108.6L1030.1 107.5L1030.5 108.9L1030.8 108.4L1031.2 103.8L1031.5 102.4L1031.9 105.2L1032.2 100.9L1032.6 99.2L1032.9 100.4L1033.3 103.9L1033.6 111.8L1034.0 104.6L1034.4 108.4L1034.7 101.9L1035.1 103.9L1035.4 109.9L1035.8 108.1L1036.1 100.3L1036.5 111.4L1036.8 107.3L1037.2 114.6L1037.5 114.0L1037.9 110.5L1038.3 107.4L1038.6 115.2L1039.0 119.9L1039.3 113.7L1039.7 110.3L1040.0 119.3L1040.4 125.0L1040.7 116.9L1041.1 120.9L1041.4 118.6L1041.8 121.5L1042.1 129.7L1042.5 123.9L1042.9 128.5L1043.2 122.8L1043.6 121.7L1043.9 121.5L1044.3 121.2L1044.6 126.2L1045.0 123.8L1045.3 123.2L1045.7 124.2L1046.0 116.2L1046.4 113.3L1046.7 107.5L1047.1 106.9L1047.5 110.8L1047.8 99.9L1048.2 96.7L1048.5 98.5L1048.9 94.5L1049.2 99.7L1049.6 98.8L1049.9 101.7L1050.3 98.4L1050.6 98.4L1051.0 100.8L1051.4 94.1L1051.7 95.7L1052.1 99.7L1052.4 96.8L1052.8 105.2L1053.1 93.2L1053.5 90.7L1053.8 89.6L1054.2 95.2L1054.5 92.2L1054.9 90.6L1055.2 96.8L1055.6 94.3L1056.0 98.8L1056.3 94.2L1056.7 101.3L1057.0 105.7L1057.4 96.0L1057.7 95.3L1058.1 95.1L1058.4 98.3L1058.8 101.7L1059.1 105.9L1059.5 103.0L1059.9 108.3L1060.2 100.0L1060.6 102.8L1060.9 104.1L1061.3 106.6L1061.6 108.5L1062.0 109.0L1062.3 107.6L1062.7 96.2L1063.0 98.2L1063.4 98.6L1063.7 102.0L1064.1 104.0L1064.5 106.6L1064.8 98.2L1065.2 90.3L1065.5 93.2L1065.9 99.0L1066.2 99.1L1066.6 92.6L1066.9 97.7L1067.3 97.3L1067.6 101.9L1068.0 90.3L1068.4 99.5L1068.7 98.0L1069.1 98.8L1069.4 97.2L1069.8 94.8L1070.1 95.7L1070.5 94.7L1070.8 92.0L1071.2 101.8L1071.5 97.9L1071.9 95.0L1072.2 105.0L1072.6 97.8L1073.0 99.1L1073.3 105.4L1073.7 105.7L1074.0 110.5L1074.4 121.7L1074.7 120.5L1075.1 118.7L1075.4 125.4L1075.8 125.1L1076.1 126.8L1076.5 121.9L1076.9 121.2L1077.2 125.5L1077.6 127.1L1077.9 123.8L1078.3 128.3L1078.6 125.1L1079.0 127.6L1079.3 121.7L1079.7 126.8L1080.0 124.4L1080.4 124.7L1080.7 122.1L1081.1 125.4L1081.5 126.4L1081.8 127.8L1082.2 131.0L1082.5 133.8L1082.9 130.3L1083.2 123.4L1083.6 129.4L1083.9 124.3L1084.3 139.2L1084.6 124.0L1085.0 122.7L1085.4 123.5L1085.7 119.7L1086.1 122.8L1086.4 119.2L1086.8 115.0L1087.1 122.2L1087.5 121.2L1087.8 125.7L1088.2 115.5L1088.5 127.0L1088.9 120.4L1089.2 116.8L1089.6 119.5L1090.0 110.3L1090.3 114.0L1090.7 99.8L1091.0 106.6L1091.4 107.6L1091.7 105.7L1092.1 98.9L1092.4 105.2L1092.8 103.7L1093.1 102.8L1093.5 99.6L1093.9 101.4L1094.2 99.4L1094.6 99.2L1094.9 100.5L1095.3 96.8L1095.6 99.1L1096.0 97.4L1096.3 94.3L1096.7 95.7L1097.0 94.3L1097.4 96.3L1097.7 98.6L1098.1 84.9L1098.5 94.6L1098.8 85.4L1099.2 92.1L1099.5 87.4L1099.9 94.9L1100.2 98.0L1100.6 87.5L1100.9 91.5L1101.3 86.0L1101.6 90.0L1102.0 93.8L1102.4 86.4L1102.7 88.1L1103.1 84.7L1103.4 89.8L1103.8 88.3L1104.1 83.8L1104.5 89.0L1104.8 81.6L1105.2 90.1L1105.5 88.5L1105.9 83.2L1106.2 85.5L1106.6 88.8L1107.0 96.1L1107.3 97.2L1107.7 94.6L1108.0 99.6L1108.4 97.3L1108.7 94.0L1109.1 103.1L1109.4 99.6L1109.8 96.5L1110.1 101.2L1110.5 109.7L1110.9 113.1L1111.2 110.2L1111.6 105.7L1111.9 109.0L1112.3 115.0L1112.6 112.7L1113.0 114.6L1113.3 106.5L1113.7 106.9L1114.0 110.7L1114.4 110.6L1114.7 109.8L1115.1 105.6L1115.5 112.7L1115.8 112.9L1116.2 108.8L1116.5 115.4L1116.9 120.6L1117.2 111.2L1117.6 109.9L1117.9 111.7L1118.3 115.1L1118.6 107.4L1119.0 106.5L1119.4 105.7L1119.7 113.7L1120.1 109.2L1120.4 106.5L1120.8 103.9L1121.1 102.9L1121.5 103.6L1121.8 111.1L1122.2 113.1L1122.5 103.6L1122.9 110.1L1123.2 98.7L1123.6 96.9L1124.0 105.9L1124.3 106.0L1124.7 107.1L1125.0 102.6L1125.4 100.0L1125.7 107.9L1126.1 93.0L1126.4 103.7L1126.8 100.2L1127.1 95.7L1127.5 97.4L1127.9 107.0L1128.2 92.4L1128.6 98.4L1128.9 94.7L1129.3 100.5L1129.6 101.8L1130.0 102.0L1130.3 103.4L1130.7 104.8L1131.0 105.1L1131.4 98.4L1131.7 101.2L1132.1 106.3" stroke="#000000"/>
<path d="M112.5 110.7L112.9 113.5L113.2 115.0L113.6 109.6L113.9 108.5L114.3 107.6L114.6 103.7L115.0 111.7L115.3 99.9L115.7 107.7L116.0 101.7L116.4 103.6L116.7 109.0L117.1 108.5L117.5 107.0L117.8 104.5L118.2 103.9L118.5 104.3L118.9 106.0L119.2 110.9L119.6 119.6L119.9 110.5L120.3 107.6L120.6 105.6L121.0 109.5L121.4 108.2L121.7 104.8L122.1 115.2L122.4 110.0L122.8 109.8L123.1 106.7L123.5 106.2L123.8 113.1L124.2 107.2L124.5 110.6L124.9 112.9L125.2 113.7L125.6 110.5L126.0 107.1L126.3 103.8L126.7 108.7L127.0 110.0L127.4 104.6L127.7 106.9L128.1 104.5L128.4 99.4L128.8 103.2L129.1 110.2L129.5 112.5L129.9 110.9L130.2 107.6L130.6 104.8L130.9 109.9L131.3 109.8L131.6 102.9L132.0 109.9L132.3 105.6L132.7 107.6L133.0 108.2L133.4 109.6L133.7 109.2L134.1 108.3L134.5 101.4L134.8 102.7L135.2 107.8L135.5 105.3L135.9 99.5L136.2 99.7L136.6 107.5L136.9 111.9L137.3 108.0L137.6 104.0L138.0 107.9L138.4 98.7L138.7 103.3L139.1 109.4L139.4 110.8L139.8 100.8L140.1 111.9L140.5 107.9L140.8 111.3L141.2 108.3L141.5 109.8L141.9 107.3L142.2 112.3L142.6 113.4L143.0 106.1L143.3 109.7L143.7 108.1L144.0 111.8L144.4 111.0L144.7 100.0L145.1 109.2L145.4 111.8L145.8 105.0L146.1 104.4L146.5 104.8L146.9 102.9L147.2 107.4L147.6 113.3L147.9 109.3L148.3 113.2L148.6 111.1L149.0 112.7L149.3 108.1L149.7 110.5L150.0 114.6L150.4 113.4L150.7 109.8L151.1 109.1L151.5 109.9L151.8 115.2L152.2 113.3L152.5 105.0L152.9 111.3L153.2 112.2L153.6 109.5L153.9 107.9L154.3 118.9L154.6 112.5L155.0 103.7L155.4 105.2L155.7 110.6L156.1 110.5L156.4 111.5L156.8 110.7L157.1 110.9L157.5 110.2L157.8 110.0L158.2 116.1L158.5 108.2L158.9 111.3L159.2 117.6L159.6 109.6L160.0 109.7L160.3 120.7L160.7 117.0L161.0 112.0L161.4 110.7L161.7 110.8L162.1 109.1L162.4 109.8L162.8 110.6L163.1 114.3L163.5 109.5L163.9 103.6L164.2 103.7L164.6 108.6L164.9 105.9L165.3 102.1L165.6 114.5L166.0 111.0L166.3 107.6L166.7 105.5L167.0 108.5L167.4 111.5L167.7 103.7L168.1 106.7L168.5 102.2L168.8 105.2L169.2 101.2L169.5 98.4L169.9 104.8L170.2 105.5L170.6 109.3L170.9 106.8L171.3 111.7L171.6 108.7L172.0 113.4L172.4 107.5L172.7 115.1L173.1 111.2L173.4 113.3L173.8 116.4L174.1 109.0L174.5 111.1L174.8 121.0L175.2 110.6L175.5 113.5L175.9 119.5L176.2 123.8L176.6 119.4L177.0 121.3L177.3 116.4L177.7 119.1L178.0 124.6L178.4 121.5L178.7 120.6L179.1 122.1L179.4 122.9L179.8 122.2L180.1 121.5L180.5 118.4L180.9 122.8L181.2 115.7L181.6 121.8L181.9 125.9L182.3 125.0L182.6 128.0L183.0 117.2L183.3 123.4L183.7 119.9L184.0 120.3L184.4 116.5L184.7 116.4L185.1 124.4L185.5 121.9L185.8 124.5L186.2 124.4L186.5 124.6L186.9 119.1L187.2 120.6L187.6 124.0L187.9 125.3L188.3 119.7L188.6 119.5L189.0 119.7L189.4 126.6L189.7 122.4L190.1 119.5L190.4 116.4L190.8 121.3L191.1 113.7L191.5 120.9L191.8 122.1L192.2 120.7L192.5 124.5L192.9 126.0L193.2 132.6L193.6 126.2L194.0 128.7L194.3 122.6L194.7 120.4L195.0 130.8L195.4 133.7L195.7 122.2L196.1 126.1L196.4 130.9L196.8 126.0L197.1 117.6L197.5 128.2L197.9 123.7L198.2 128.5L198.6 122.8L198.9 127.8L199.3 127.3L199.6 121.2L200.0 127.7L200.3 123.6L200.7 124.1L201.0 123.2L201.4 124.7L201.7 126.3L202.1 131.7L202.5 127.5L202.8 124.3L203.2 133.2L203.5 128.8L203.9 132.0L204.2 128.0L204.6 130.3L204.9 126.3L205.3 122.3L205.6 126.4L206.0 127.4L206.3 127.9L206.7 131.3L207.1 123.0L207.4 129.5L207.8 126.3L208.1 128.2L208.5 130.1L208.8 129.2L209.2 127.6L209.5 132.2L209.9 128.5L210.2 132.3L210.6 135.2L211.0 129.1L211.3 126.2L211.7 129.7L212.0 133.3L212.4 129.7L212.7 125.2L213.1 125.0L213.4 126.7L213.8 128.6L214.1 134.6L214.5 132.2L214.8 135.3L215.2 130.3L215.6 135.6L215.9 132.0L216.3 132.8L216.6 131.5L217.0 134.1L217.3 137.2L217.7 136.0L218.0 135.1L218.4 128.1L218.7 132.0L219.1 135.0L219.5 128.8L219.8 128.0L220.2 127.1L220.5 124.2L220.9 125.7L221.2 130.9L221.6 127.2L221.9 126.6L222.3 125.6L222.6 124.2L223.0 134.6L223.3 123.4L223.7 125.3L224.1 124.2L224.4 126.5L224.8 125.0L225.1 126.1L225.5 130.7L225.8 122.6L226.2 126.3L226.5 122.8L226.9 123.6L227.2 118.4L227.6 120.9L228.0 115.3L228.3 113.4L228.7 115.1L229.0 119.6L229.4 119.8L229.7 121.5L230.1 127.0L230.4 119.9L230.8 124.4L231.1 124.6L231.5 120.8L231.8 116.7L232.2 122.3L232.6 122.0L232.9 121.0L233.3 121.0L233.6 120.3L234.0 117.8L234.3 121.4L234.7 122.5L235.0 129.0L235.4 119.0L235.7 120.2L236.1 123.5L236.5 122.2L236.8 121.8L237.2 123.9L237.5 123.4L237.9 126.8L238.2 127.7L238.6 119.6L238.9 127.5L239.3 117.8L239.6 130.9L240.0 128.3L240.3 124.3L240.7 128.6L241.1 124.4L241.4 123.3L241.8 123.4L242.1 123.8L242.5 121.8L242.8 123.1L243.2 119.1L243.5 119.2L243.9 117.6L244.2 113.5L244.6 125.6L245.0 123.3L245.3 116.9L245.7 122.1L246.0 123.4L246.4 115.7L246.7 120.0L247.1 121.7L247.4 127.4L247.8 126.2L248.1 126.3L248.5 124.2L248.8 126.9L249.2 121.0L249.6 127.5L249.9 127.4L250.3 118.5L250.6 123.9L251.0 128.9L251.3 130.4L251.7 129.2L252.0 121.6L252.4 122.8L252.7 120.0L253.1 127.0L253.5 119.9L253.8 118.3L254.2 114.6L254.5 120.2L254.9 122.4L255.2 119.4L255.6 118.0L255.9 121.5L256.3 128.1L256.6 120.2L257.0 125.1L257.3 127.0L257.7 127.8L258.1 131.3L258.4 128.7L258.8 128.2L259.1 132.1L259.5 132.9L259.8 127.4L260.2 127.6L260.5 123.6L260.9 127.1L261.2 124.1L261.6 123.3L262.0 126.4L262.3 120.5L262.7 122.7L263.0 124.7L263.4 128.5L263.7 125.9L264.1 127.9L264.4 131.6L264.8 129.7L265.1 121.7L265.5 118.2L265.8 121.2L266.2 120.2L266.6 116.2L266.9 117.4L267.3 118.2L267.6 120.9L268.0 128.8L268.3 127.6L268.7 119.3L269.0 119.4L269.4 115.0L269.7 115.1L270.1 119.9L270.5 119.5L270.8 117.0L271.2 121.9L271.5 118.8L271.9 123.6L272.2 119.6L272.6 123.3L272.9 119.4L273.3 120.1L273.6 123.1L274.0 124.8L274.3 121.2L274.7 123.2L275.1 122.2L275.4 124.8L275.8 120.7L276.1 119.8L276.5 124.4L276.8 124.7L277.2 120.9L277.5 127.3L277.9 127.3L278.2 130.4L278.6 129.7L279.0 129.3L279.3 130.9L279.7 121.6L280.0 125.0L280.4 124.9L280.7 124.4L281.1 122.1L281.4 118.5L281.8 120.1L282.1 120.1L282.5 125.4L282.8 120.1L283.2 123.0L283.6 120.6L283.9 120.3L284.3 118.3L284.6 118.4L285.0 113.0L285.3 119.1L285.7 119.9L286.0 118.2L286.4 122.2L286.7 123.5L287.1 121.5L287.5 127.2L287.8 123.6L288.2 134.5L288.5 123.5L288.9 122.5L289.2 123.7L289.6 126.3L289.9 130.8L290.3 127.1L290.6 125.8L291.0 133.4L291.3 132.1L291.7 127.6L292.1 127.5L292.4 122.8L292.8 127.2L293.1 132.7L293.5 122.9L293.8 122.2L294.2 129.2L294.5 120.5L294.9 132.3L295.2 122.3L295.6 125.4L296.0 125.7L296.3 129.3L296.7 126.5L297.0 119.5L297.4 120.1L297.7 125.7L298.1 117.1L298.4 123.7L298.8 123.5L299.1 129.1L299.5 130.6L299.8 119.7L300.2 126.9L300.6 126.5L300.9 120.9L301.3 121.2L301.6 118.5L302.0 119.4L302.3 122.2L302.7 126.2L303.0 125.1L303.4 118.8L303.7 116.2L304.1 122.0L304.4 108.8L304.8 112.0L305.2 117.3L305.5 123.2L305.9 112.5L306.2 114.2L306.6 109.3L306.9 113.0L307.3 116.6L307.6 109.2L308.0 119.4L308.3 108.9L308.7 112.9L309.1 111.3L309.4 108.1L309.8 113.9L310.1 115.3L310.5 109.9L310.8 118.9L311.2 117.1L311.5 111.9L311.9 109.6L312.2 107.4L312.6 107.4L312.9 113.2L313.3 113.3L313.7 109.9L314.0 110.1L314.4 110.6L314.7 114.8L315.1 118.2L315.4 111.9L315.8 114.7L316.1 114.5L316.5 116.3L316.8 120.9L317.2 116.3L317.6 111.6L317.9 115.6L318.3 110.6L318.6 122.2L319.0 115.8L319.3 118.5L319.7 119.5L320.0 118.7L320.4 118.3L320.7 118.6L321.1 123.2L321.4 119.0L321.8 127.1L322.2 123.1L322.5 115.6L322.9 126.8L323.2 116.4L323.6 122.8L323.9 128.3L324.3 123.9L324.6 117.1L325.0 116.9L325.3 117.9L325.7 121.0L326.1 112.7L326.4 118.9L326.8 114.6L327.1 113.8L327.5 113.1L327.8 118.1L328.2 105.3L328.5 106.2L328.9 112.9L329.2 110.6L329.6 103.7L329.9 106.1L330.3 105.4L330.7 111.4L331.0 109.9L331.4 117.7L331.7 114.2L332.1 112.1L332.4 111.4L332.8 112.1L333.1 110.3L333.5 108.3L333.8 108.3L334.2 110.2L334.6 107.1L334.9 111.6L335.3 107.4L335.6 104.4L336.0 108.1L336.3 114.4L336.7 113.4L337.0 104.6L337.4 110.9L337.7 107.5L338.1 109.5L338.4 108.3L338.8 109.6L339.2 107.8L339.5 108.9L339.9 109.0L340.2 103.0L340.6 103.7L340.9 103.8L341.3 103.3L341.6 108.1L342.0 102.5L342.3 103.9L342.7 102.8L343.1 104.5L343.4 101.1L343.8 103.5L344.1 99.6L344.5 100.3L344.8 101.6L345.2 96.0L345.5 102.9L345.9 107.5L346.2 102.4L346.6 100.2L346.9 105.3L347.3 98.7L347.7 99.8L348.0 87.7L348.4 96.1L348.7 95.7L349.1 99.4L349.4 100.7L349.8 96.5L350.1 95.1L350.5 89.5L350.8 99.2L351.2 101.8L351.6 100.7L351.9 99.3L352.3 104.3L352.6 106.1L353.0 104.0L353.3 110.1L353.7 103.3L354.0 99.9L354.4 106.0L354.7 106.9L355.1 101.1L355.4 103.7L355.8 101.6L356.2 99.0L356.5 99.4L356.9 95.7L357.2 104.6L357.6 106.1L357.9 108.0L358.3 101.1L358.6 103.9L359.0 100.6L359.3 101.4L359.7 110.2L360.1 113.3L360.4 101.6L360.8 103.7L361.1 108.7L361.5 104.9L361.8 109.6L362.2 104.7L362.5 111.7L362.9 108.9L363.2 105.4L363.6 100.7L363.9 106.1L364.3 104.8L364.7 104.1L365.0 104.0L365.4 107.4L365.7 105.9L366.1 106.2L366.4 109.7L366.8 109.2L367.1 113.0L367.5 103.6L367.8 107.5L368.2 107.4L368.6 108.9L368.9 101.7L369.3 103.3L369.6 97.2L370.0 93.9L370.3 91.5L370.7 90.0L371.0 93.5L371.4 86.6L371.7 88.6L372.1 91.5L372.4 92.5L372.8 91.1L373.2 92.6L373.5 88.5L373.9 87.0L374.2 89.7L374.6 93.0L374.9 91.0L375.3 86.0L375.6 89.1L376.0 83.3L376.3 91.6L376.7 84.9L377.1 90.4L377.4 93.4L377.8 91.2L378.1 82.6L378.5 87.3L378.8 85.5L379.2 85.5L379.5 92.5L379.9 90.1L380.2 84.9L380.6 86.8L380.9 92.6L381.3 90.7L381.7 85.2L382.0 81.5L382.4 85.4L382.7 87.7L383.1 92.4L383.4 87.0L383.8 93.1L384.1 94.2L384.5 84.1L384.8 86.1L385.2 92.1L385.6 85.3L385.9 89.0L386.3 91.9L386.6 85.0L387.0 85.5L387.3 81.2L387.7 86.7L388.0 83.5L388.4 84.8L388.7 79.3L389.1 90.3L389.4 88.0L389.8 81.3L390.2 89.6L390.5 79.9L390.9 85.3L391.2 80.4L391.6 94.7L391.9 80.0L392.3 83.5L392.6 84.6L393.0 90.2L393.3 90.6L393.7 89.3L394.0 85.3L394.4 90.2L394.8 80.3L395.1 82.5L395.5 88.2L395.8 79.7L396.2 81.8L396.5 88.2L396.9 86.6L397.2 82.7L397.6 87.0L397.9 95.1L398.3 89.3L398.7 93.7L399.0 93.6L399.4 90.5L399.7 104.7L400.1 97.0L400.4 97.4L400.8 92.3L401.1 94.3L401.5 94.3L401.8 95.7L402.2 92.5L402.5 93.8L402.9 102.5L403.3 94.7L403.6 98.5L404.0 99.0L404.3 100.6L404.7 97.9L405.0 97.1L405.4 103.6L405.7 99.2L406.1 96.4L406.4 103.3L406.8 91.3L407.2 98.8L407.5 95.3L407.9 91.2L408.2 94.9L408.6 92.9L408.9 96.7L409.3 94.9L409.6 88.9L410.0 86.0L410.3 84.5L410.7 88.9L411.0 84.5L411.4 89.5L411.8 91.2L412.1 94.9L412.5 97.0L412.8 94.9L413.2 95.2L413.5 93.5L413.9 96.4L414.2 96.5L414.6 97.7L414.9 95.9L415.3 89.1L415.7 87.4L416.0 92.8L416.4 94.0L416.7 88.3L417.1 95.9L417.4 90.5L417.8 90.1L418.1 91.5L418.5 87.3L418.8 87.1L419.2 90.0L419.5 84.9L419.9 89.0L420.3 90.9L420.6 84.7L421.0 90.4L421.3 94.6L421.7 84.9L422.0 92.0L422.4 89.2L422.7 88.4L423.1 97.4L423.4 98.0L423.8 92.8L424.2 93.9L424.5 100.0L424.9 105.8L425.2 95.0L425.6 99.8L425.9 97.7L426.3 95.9L426.6 98.4L427.0 94.3L427.3 99.8L427.7 95.5L428.0 94.4L428.4 95.4L428.8 100.6L429.1 102.5L429.5 102.1L429.8 99.0L430.2 105.3L430.5 100.5L430.9 101.8L431.2 105.2L431.6 110.4L431.9 108.8L432.3 109.5L432.7 110.9L433.0 107.8L433.4 104.6L433.7 107.7L434.1 105.1L434.4 106.4L434.8 109.2L435.1 106.9L435.5 100.2L435.8 104.2L436.2 103.9L436.5 103.0L436.9 101.8L437.3 101.0L437.6 99.5L438.0 106.0L438.3 104.9L438.7 103.3L439.0 99.3L439.4 101.8L439.7 96.3L440.1 92.5L440.4 96.6L440.8 93.2L441.2 94.1L441.5 90.9L441.9 91.8L442.2 88.8L442.6 86.0L442.9 88.6L443.3 90.8L443.6 84.5L444.0 86.2L444.3 86.0L444.7 94.4L445.0 88.9L445.4 95.5L445.8 90.0L446.1 96.6L446.5 91.0L446.8 91.6L447.2 94.9L447.5 91.9L447.9 92.0L448.2 97.4L448.6 92.9L448.9 96.9L449.3 101.8L449.7 92.2L450.0 92.4L450.4 88.0L450.7 88.8L451.1 93.3L451.4 90.9L451.8 92.7L452.1 92.8L452.5 88.6L452.8 85.0L453.2 95.6L453.5 94.9L453.9 97.5L454.3 94.3L454.6 96.0L455.0 93.8L455.3 96.5L455.7 94.9L456.0 98.0L456.4 101.6L456.7 99.4L457.1 90.4L457.4 96.3L457.8 96.0L458.2 99.3L458.5 97.0L458.9 93.2L459.2 95.2L459.6 96.3L459.9 94.4L460.3 101.1L460.6 99.8L461.0 99.7L461.3 103.5L461.7 108.9L462.0 100.0L462.4 100.8L462.8 100.1L463.1 97.7L463.5 100.9L463.8 98.4L464.2 107.2L464.5 106.8L464.9 109.2L465.2 105.4L465.6 112.7L465.9 107.0L466.3 107.0L466.7 111.3L467.0 112.8L467.4 110.7L467.7 112.2L468.1 105.7L468.4 102.4L468.8 102.6L469.1 99.3L469.5 102.0L469.8 98.2L470.2 96.9L470.5 95.0L470.9 92.5L471.3 106.3L471.6 102.0L472.0 91.7L472.3 98.8L472.7 95.3L473.0 88.9L473.4 93.9L473.7 96.8L474.1 97.7L474.4 99.8L474.8 94.2L475.2 95.7L475.5 98.9L475.9 99.1L476.2 98.6L476.6 98.2L476.9 101.1L477.3 90.7L477.6 89.9L478.0 99.7L478.3 96.7L478.7 99.5L479.0 96.3L479.4 94.6L479.8 96.1L480.1 99.2L480.5 96.9L480.8 97.9L481.2 96.8L481.5 98.9L481.9 98.8L482.2 100.5L482.6 92.6L482.9 92.8L483.3 93.6L483.6 89.2L484.0 79.8L484.4 89.5L484.7 89.0L485.1 85.8L485.4 83.8L485.8 83.2L486.1 89.4L486.5 85.8L486.8 84.9L487.2 87.9L487.5 88.8L487.9 83.5L488.3 83.7L488.6 84.1L489.0 88.6L489.3 85.8L489.7 89.1L490.0 87.8L490.4 84.8L490.7 80.3L491.1 84.9L491.4 94.9L491.8 87.5L492.1 88.7L492.5 89.3L492.9 94.1L493.2 89.4L493.6 86.5L493.9 86.3L494.3 88.5L494.6 90.2L495.0 92.9L495.3 98.3L495.7 96.9L496.0 95.1L496.4 94.8L496.8 93.8L497.1 99.1L497.5 101.8L497.8 99.9L498.2 98.1L498.5 100.1L498.9 96.5L499.2 97.5L499.6 96.4L499.9 98.0L500.3 98.6L500.6 102.2L501.0 99.0L501.4 99.7L501.7 104.1L502.1 101.1L502.4 101.1L502.8 96.5L503.1 103.7L503.5 97.1L503.8 92.4L504.2 95.5L504.5 91.2L504.9 92.8L505.3 95.0L505.6 100.2L506.0 91.7L506.3 97.9L506.7 98.5L507.0 103.6L507.4 100.9L507.7 103.4L508.1 106.8L508.4 98.7L508.8 99.9L509.1 95.4L509.5 98.6L509.9 103.6L510.2 103.5L510.6 106.4L510.9 104.7L511.3 103.2L511.6 103.6L512.0 101.5L512.3 101.4L512.7 100.0L513.0 103.1L513.4 109.0L513.8 97.7L514.1 100.6L514.5 94.1L514.8 97.7L515.2 102.6L515.5 99.2L515.9 107.1L516.2 103.9L516.6 104.8L516.9 103.8L517.3 103.0L517.6 109.3L518.0 112.1L518.4 108.3L518.7 111.0L519.1 105.6L519.4 105.9L519.8 111.3L520.1 106.3L520.5 105.2L520.8 107.9L521.2 105.6L521.5 104.7L521.9 107.6L522.3 96.9L522.6 104.1L523.0 107.4L523.3 103.9L523.7 97.2L524.0 108.0L524.4 110.8L524.7 105.4L525.1 100.0L525.4 99.9L525.8 101.0L526.1 102.0L526.5 106.2L526.9 103.9L527.2 95.3L527.6 103.3L527.9 102.5L528.3 107.1L528.6 100.1L529.0 97.6L529.3 100.6L529.7 102.3L530.0 94.9L530.4 104.9L530.8 100.8L531.1 104.9L531.5 103.2L531.8 102.0L532.2 105.2L532.5 105.8L532.9 100.2L533.2 101.5L533.6 104.7L533.9 102.3L534.3 99.6L534.6 100.4L535.0 96.5L535.4 97.3L535.7 91.7L536.1 100.0L536.4 107.0L536.8 104.5L537.1 106.7L537.5 106.7L537.8 103.6L538.2 109.6L538.5 109.5L538.9 108.4L539.3 109.9L539.6 108.6L540.0 111.0L540.3 113.6L540.7 114.8L541.0 112.6L541.4 114.0L541.7 112.1L542.1 103.6L542.4 105.2L542.8 108.6L543.1 105.9L543.5 112.6L543.9 107.0L544.2 109.6L544.6 109.6L544.9 107.8L545.3 107.2L545.6 108.5L546.0 108.7L546.3 107.8L546.7 109.0L547.0 111.2L547.4 106.5L547.8 103.7L548.1 103.3L548.5 104.8L548.8 103.5L549.2 108.8L549.5 111.0L549.9 106.0L550.2 102.6L550.6 105.4L550.9 106.9L551.3 111.4L551.6 114.9L552.0 107.8L552.4 122.9L552.7 115.0L553.1 119.4L553.4 117.3L553.8 114.8L554.1 117.2L554.5 130.4L554.8 128.3L555.2 119.8L555.5 118.8L555.9 126.8L556.3 119.6L556.6 123.5L557.0 130.4L557.3 126.1L557.7 128.2L558.0 125.1L558.4 116.6L558.7 118.4L559.1 116.0L559.4 122.9L559.8 117.7L560.1 122.8L560.5 120.2L560.9 119.4L561.2 121.9L561.6 116.8L561.9 117.4L562.3 122.5L562.6 118.6L563.0 115.8L563.3 125.7L563.7 116.6L564.0 121.4L564.4 122.3L564.8 118.7L565.1 117.6L565.5 119.5L565.8 119.6L566.2 118.0L566.5 125.0L566.9 122.2L567.2 123.3L567.6 127.9L567.9 121.8L568.3 117.7L568.6 120.8L569.0 121.8L569.4 121.0L569.7 127.2L570.1 119.8L570.4 125.2L570.8 122.7L571.1 124.9L571.5 121.2L571.8 121.0L572.2 119.5L572.5 120.5L572.9 122.4L573.3 126.8L573.6 116.5L574.0 126.4L574.3 125.2L574.7 123.4L575.0 120.1L575.4 124.8L575.7 116.3L576.1 126.0L576.4 119.2L576.8 120.4L577.1 120.9L577.5 123.9L577.9 118.5L578.2 124.3L578.6 122.8L578.9 127.8L579.3 124.2L579.6 121.5L580.0 115.6L580.3 121.8L580.7 127.8L581.0 121.0L581.4 123.3L581.7 123.8L582.1 126.3L582.5 116.2L582.8 126.6L583.2 124.0L583.5 123.8L583.9 119.8L584.2 124.9L584.6 116.9L584.9 121.6L585.3 118.3L585.6 114.4L586.0 117.3L586.4 120.3L586.7 117.5L587.1 117.5L587.4 118.0L587.8 114.8L588.1 114.4L588.5 116.6L588.8 113.4L589.2 118.7L589.5 120.1L589.9 121.7L590.2 120.3L590.6 116.1L591.0 117.4L591.3 111.9L591.7 117.3L592.0 114.5L592.4 119.1L592.7 112.0L593.1 112.4L593.4 110.4L593.8 114.3L594.1 114.7L594.5 108.1L594.9 117.8L595.2 113.6L595.6 108.5L595.9 108.6L596.3 106.6L596.6 105.8L597.0 111.0L597.3 106.0L597.7 114.6L598.0 108.6L598.4 112.8L598.7 120.8L599.1 115.0L599.5 116.8L599.8 120.8L600.2 116.1L600.5 120.3L600.9 118.3L601.2 120.5L601.6 124.6L601.9 124.9L602.3 121.9L602.6 126.7L603.0 127.6L603.4 128.4L603.7 127.9L604.1 124.5L604.4 130.0L604.8 133.4L605.1 127.7L605.5 123.9L605.8 131.5L606.2 135.3L606.5 134.7L606.9 128.4L607.2 134.0L607.6 128.5L608.0 133.3L608.3 127.9L608.7 133.3L609.0 132.1L609.4 128.5L609.7 132.2L610.1 126.7L610.4 127.3L610.8 126.2L611.1 124.1L611.5 130.9L611.9 131.6L612.2 129.4L612.6 127.7L612.9 132.7L613.3 131.4L613.6 132.3L614.0 132.1L614.3 131.3L614.7 136.9L615.0 130.1L615.4 131.6L615.7 126.8L616.1 131.2L616.5 130.5L616.8 130.0L617.2 132.0L617.5 128.5L617.9 132.6L618.2 130.9L618.6 130.6L618.9 124.9L619.3 132.8L619.6 134.0L620.0 126.9L620.4 128.9L620.7 125.5L621.1 131.8L621.4 127.8L621.8 131.0L622.1 130.1L622.5 130.3L622.8 124.8L623.2 120.7L623.5 124.8L623.9 121.1L624.2 128.9L624.6 124.9L625.0 129.4L625.3 126.9L625.7 123.7L626.0 121.3L626.4 126.0L626.7 129.7L627.1 126.0L627.4 127.0L627.8 125.5L628.1 120.4L628.5 125.8L628.9 120.8L629.2 123.4L629.6 129.1L629.9 118.6L630.3 124.6L630.6 125.3L631.0 126.8L631.3 122.1L631.7 119.2L632.0 125.7L632.4 125.3L632.7 117.4L633.1 121.9L633.5 116.6L633.8 114.8L634.2 116.3L634.5 114.6L634.9 110.5L635.2 122.7L635.6 114.4L635.9 120.0L636.3 120.0L636.6 124.3L637.0 118.0L637.4 123.3L637.7 115.2L638.1 119.3L638.4 119.6L638.8 118.0L639.1 121.7L639.5 127.3L639.8 127.8L640.2 123.9L640.5 117.6L640.9 120.5L641.2 124.6L641.6 124.6L642.0 123.4L642.3 120.4L642.7 118.0L643.0 122.3L643.4 121.4L643.7 125.1L644.1 116.9L644.4 122.9L644.8 124.0L645.1 125.0L645.5 125.9L645.9 116.6L646.2 112.8L646.6 116.6L646.9 114.0L647.3 110.3L647.6 121.6L648.0 119.9L648.3 120.5L648.7 117.2L649.0 120.3L649.4 117.1L649.7 117.4L650.1 124.0L650.5 113.5L650.8 120.3L651.2 112.1L651.5 121.6L651.9 117.5L652.2 113.9L652.6 112.6L652.9 116.9L653.3 123.6L653.6 118.4L654.0 111.7L654.4 109.6L654.7 124.5L655.1 115.0L655.4 113.2L655.8 118.4L656.1 120.4L656.5 124.5L656.8 117.1L657.2 113.5L657.5 119.8L657.9 116.2L658.2 119.9L658.6 119.5L659.0 120.9L659.3 113.6L659.7 114.0L660.0 115.6L660.4 117.2L660.7 110.1L661.1 112.7L661.4 118.1L661.8 118.2L662.1 126.5L662.5 122.3L662.9 122.7L663.2 117.6L663.6 118.7L663.9 120.4L664.3 123.0L664.6 119.0L665.0 125.5L665.3 116.5L665.7 122.3L666.0 121.7L666.4 119.6L666.7 126.8L667.1 125.7L667.5 121.1L667.8 120.6L668.2 127.6L668.5 123.8L668.9 129.6L669.2 124.1L669.6 126.6L669.9 122.4L670.3 123.7L670.6 129.0L671.0 130.5L671.3 124.9L671.7 124.9L672.1 121.2L672.4 126.3L672.8 128.9L673.1 121.3L673.5 119.5L673.8 124.0L674.2 121.2L674.5 123.5L674.9 127.7L675.2 123.3L675.6 124.2L676.0 127.9L676.3 123.1L676.7 123.6L677.0 122.1L677.4 119.7L677.7 128.6L678.1 119.4L678.4 124.0L678.8 118.6L679.1 117.2L679.5 115.3L679.8 119.9L680.2 123.7L680.6 123.1L680.9 111.3L681.3 117.6L681.6 114.0L682.0 113.2L682.3 114.7L682.7 114.9L683.0 113.6L683.4 112.6L683.7 119.2L684.1 111.9L684.5 114.2L684.8 108.0L685.2 115.7L685.5 111.8L685.9 113.6L686.2 112.8L686.6 121.8L686.9 118.4L687.3 112.9L687.6 115.3L688.0 119.6L688.3 122.5L688.7 124.8L689.1 128.0L689.4 130.3L689.8 122.6L690.1 123.4L690.5 127.7L690.8 123.3L691.2 131.0L691.5 128.2L691.9 122.1L692.2 126.6L692.6 127.8L693.0 122.9L693.3 119.7L693.7 117.3L694.0 117.2L694.4 111.1L694.7 113.7L695.1 111.6L695.4 109.5L695.8 107.8L696.1 110.9L696.5 102.9L696.8 105.9L697.2 98.8L697.6 104.7L697.9 107.2L698.3 107.7L698.6 109.3L699.0 105.4L699.3 106.3L699.7 103.6L700.0 100.4L700.4 100.6L700.7 100.9L701.1 103.8L701.5 108.8L701.8 107.6L702.2 108.2L702.5 110.8L702.9 107.9L703.2 109.7L703.6 111.2L703.9 111.9L704.3 111.1L704.6 107.1L705.0 109.5L705.3 105.3L705.7 111.5L706.1 112.5L706.4 107.5L706.8 106.2L707.1 109.1L707.5 104.7L707.8 112.6L708.2 110.3L708.5 107.6L708.9 111.8L709.2 109.5L709.6 107.8L710.0 110.7L710.3 103.9L710.7 105.8L711.0 105.9L711.4 103.5L711.7 111.9L712.1 119.2L712.4 109.4L712.8 113.1L713.1 117.8L713.5 114.4L713.8 116.8L714.2 114.7L714.6 118.9L714.9 115.1L715.3 119.7L715.6 119.2L716.0 120.5L716.3 115.6L716.7 117.5L717.0 120.7L717.4 114.8L717.7 114.5L718.1 108.7L718.5 113.9L718.8 114.0L719.2 117.1L719.5 110.0L719.9 109.5L720.2 117.9L720.6 114.3L720.9 108.5L721.3 109.8L721.6 103.7L722.0 108.4L722.3 112.8L722.7 109.6L723.1 102.8L723.4 106.3L723.8 103.3L724.1 105.4L724.5 102.7L724.8 106.5L725.2 108.0L725.5 105.8L725.9 105.4L726.2 103.6L726.6 105.0L727.0 100.4L727.3 101.1L727.7 101.6L728.0 109.0L728.4 105.4L728.7 107.2L729.1 103.7L729.4 101.8L729.8 105.0L730.1 106.5L730.5 102.4L730.8 102.2L731.2 103.6L731.6 104.6L731.9 109.2L732.3 103.0L732.6 101.0L733.0 100.4L733.3 110.4L733.7 102.6L734.0 104.6L734.4 103.2L734.7 97.2L735.1 104.6L735.5 100.9L735.8 98.2L736.2 102.2L736.5 98.2L736.9 102.6L737.2 97.3L737.6 101.8L737.9 103.6L738.3 101.0L738.6 96.7L739.0 100.3L739.3 104.1L739.7 95.5L740.1 94.8L740.4 101.0L740.8 98.0L741.1 96.4L741.5 94.5L741.8 97.7L742.2 99.8L742.5 97.9L742.9 91.7L743.2 98.6L743.6 90.7L744.0 101.1L744.3 95.5L744.7 97.9L745.0 96.3L745.4 95.5L745.7 104.1L746.1 103.1L746.4 108.2L746.8 104.1L747.1 104.7L747.5 112.4L747.8 107.6L748.2 103.5L748.6 99.7L748.9 108.1L749.3 109.1L749.6 110.6L750.0 104.6L750.3 102.3L750.7 102.2L751.0 108.5L751.4 105.2L751.7 107.4L752.1 98.2L752.5 109.2L752.8 102.6L753.2 95.8L753.5 98.1L753.9 103.4L754.2 107.3L754.6 95.5L754.9 98.7L755.3 104.6L755.6 98.5L756.0 104.1L756.3 104.7L756.7 108.9L757.1 104.0L757.4 109.2L757.8 108.2L758.1 111.6L758.5 110.7L758.8 113.3L759.2 109.5L759.5 115.4L759.9 105.7L760.2 108.7L760.6 111.8L761.0 109.6L761.3 101.4L761.7 108.6L762.0 105.3L762.4 112.7L762.7 104.2L763.1 106.5L763.4 103.4L763.8 109.7L764.1 99.6L764.5 103.2L764.8 107.0L765.2 104.3L765.6 112.6L765.9 108.8L766.3 112.2L766.6 101.4L767.0 102.8L767.3 106.6L767.7 104.5L768.0 106.5L768.4 105.6L768.7 101.2L769.1 104.3L769.4 107.3L769.8 104.4L770.2 102.1L770.5 101.5L770.9 102.8L771.2 106.6L771.6 109.6L771.9 99.6L772.3 100.0L772.6 102.5L773.0 109.8L773.3 104.3L773.7 116.0L774.1 114.9L774.4 99.2L774.8 108.0L775.1 106.8L775.5 103.3L775.8 100.3L776.2 107.9L776.5 105.1L776.9 109.8L777.2 106.9L777.6 103.6L777.9 111.4L778.3 111.8L778.7 109.5L779.0 104.2L779.4 106.0L779.7 105.0L780.1 103.3L780.4 102.5L780.8 108.7L781.1 100.3L781.5 110.3L781.8 104.4L782.2 109.6L782.6 106.0L782.9 105.2L783.3 106.5L783.6 108.7L784.0 115.2L784.3 112.4L784.7 109.8L785.0 113.8L785.4 107.1L785.7 107.6L786.1 109.3L786.4 115.5L786.8 112.5L787.2 113.6L787.5 112.4L787.9 109.2L788.2 114.7L788.6 111.0L788.9 105.1L789.3 105.6L789.6 108.0L790.0 102.8L790.3 103.3L790.7 104.8L791.1 100.0L791.4 97.6L791.8 93.5L792.1 90.4L792.5 89.8L792.8 99.2L793.2 89.7L793.5 91.9L793.9 92.5L794.2 94.6L794.6 92.4L794.9 89.1L795.3 100.6L795.7 87.7L796.0 101.0L796.4 86.3L796.7 92.0L797.1 87.7L797.4 97.1L797.8 92.7L798.1 85.0L798.5 96.2L798.8 84.4L799.2 88.4L799.6 94.1L799.9 88.4L800.3 94.8L800.6 90.6L801.0 90.1L801.3 97.7L801.7 93.9L802.0 92.4L802.4 98.0L802.7 95.7L803.1 93.2L803.4 95.5L803.8 106.5L804.2 107.6L804.5 92.7L804.9 101.2L805.2 101.6L805.6 98.0L805.9 100.6L806.3 94.6L806.6 95.7L807.0 100.5L807.3 97.6L807.7 99.1L808.1 97.3L808.4 93.0L808.8 98.5L809.1 100.8L809.5 101.9L809.8 99.6L810.2 105.7L810.5 95.0L810.9 97.3L811.2 97.0L811.6 102.2L811.9 94.6L812.3 99.2L812.7 95.9L813.0 96.6L813.4 100.5L813.7 102.2L814.1 101.8L814.4 93.2L814.8 102.3L815.1 104.4L815.5 102.9L815.8 104.1L816.2 102.6L816.6 102.2L816.9 105.0L817.3 110.2L817.6 103.4L818.0 106.3L818.3 108.7L818.7 99.6L819.0 112.5L819.4 108.1L819.7 111.3L820.1 105.7L820.4 102.1L820.8 104.1L821.2 104.1L821.5 100.0L821.9 105.8L822.2 101.6L822.6 97.8L822.9 102.8L823.3 98.9L823.6 99.5L824.0 98.0L824.3 98.4L824.7 95.1L825.1 99.9L825.4 98.6L825.8 99.7L826.1 94.3L826.5 97.2L826.8 98.1L827.2 88.9L827.5 90.2L827.9 96.3L828.2 86.0L828.6 86.3L828.9 87.5L829.3 85.1L829.7 90.7L830.0 86.8L830.4 86.8L830.7 85.3L831.1 90.3L831.4 87.9L831.8 86.8L832.1 86.1L832.5 91.8L832.8 86.4L833.2 88.2L833.6 91.2L833.9 87.2L834.3 92.8L834.6 88.2L835.0 93.4L835.3 84.8L835.7 92.6L836.0 91.0L836.4 90.5L836.7 96.6L837.1 95.8L837.4 96.1L837.8 97.7L838.2 94.5L838.5 95.0L838.9 94.0L839.2 100.7L839.6 97.8L839.9 93.5L840.3 91.8L840.6 91.6L841.0 92.0L841.3 98.7L841.7 94.0L842.1 97.6L842.4 91.6L842.8 90.7L843.1 100.0L843.5 88.3L843.8 91.7L844.2 88.6L844.5 94.3L844.9 106.3L845.2 95.1L845.6 101.5L845.9 103.9L846.3 95.5L846.7 97.2L847.0 101.5L847.4 102.8L847.7 95.0L848.1 97.8L848.4 106.8L848.8 98.6L849.1 104.6L849.5 104.6L849.8 105.2L850.2 99.4L850.6 96.8L850.9 97.2L851.3 97.5L851.6 95.5L852.0 100.5L852.3 103.6L852.7 108.4L853.0 106.5L853.4 106.6L853.7 116.7L854.1 111.2L854.4 110.1L854.8 108.0L855.2 108.9L855.5 107.0L855.9 106.0L856.2 105.7L856.6 104.3L856.9 108.4L857.3 105.8L857.6 115.6L858.0 106.2L858.3 113.6L858.7 109.5L859.0 112.3L859.4 112.5L859.8 103.4L860.1 114.6L860.5 111.3L860.8 106.8L861.2 106.9L861.5 111.6L861.9 105.3L862.2 115.8L862.6 110.4L862.9 115.2L863.3 113.6L863.7 113.0L864.0 112.5L864.4 111.1L864.7 118.7L865.1 114.7L865.4 119.6L865.8 119.7L866.1 119.6L866.5 119.6L866.8 120.9L867.2 114.6L867.5 113.8L867.9 115.6L868.3 114.0L868.6 113.7L869.0 117.2L869.3 115.3L869.7 115.5L870.0 111.3L870.4 115.1L870.7 112.3L871.1 116.4L871.4 115.1L871.8 114.0L872.2 115.6L872.5 112.7L872.9 111.3L873.2 116.8L873.6 115.9L873.9 117.2L874.3 113.5L874.6 106.0L875.0 115.2L875.3 116.9L875.7 109.7L876.0 113.4L876.4 117.4L876.8 115.0L877.1 110.3L877.5 119.4L877.8 114.9L878.2 116.3L878.5 119.2L878.9 114.2L879.2 113.5L879.6 117.3L879.9 117.2L880.3 113.7L880.7 115.8L881.0 112.7L881.4 115.2L881.7 109.1L882.1 112.1L882.4 117.1L882.8 111.0L883.1 109.3L883.5 112.6L883.8 112.1L884.2 107.9L884.5 104.0L884.9 112.5L885.3 106.8L885.6 110.8L886.0 102.1L886.3 105.6L886.7 103.4L887.0 104.1L887.4 98.5L887.7 107.0L888.1 103.7L888.4 105.7L888.8 102.8L889.2 111.0L889.5 102.1L889.9 114.2L890.2 106.7L890.6 105.2L890.9 111.5L891.3 113.2L891.6 106.3L892.0 106.7L892.3 106.8L892.7 111.9L893.0 111.2L893.4 107.3L893.8 112.0L894.1 114.9L894.5 111.3L894.8 112.7L895.2 109.0L895.5 117.3L895.9 114.1L896.2 104.5L896.6 105.6L896.9 101.1L897.3 111.8L897.7 104.2L898.0 107.1L898.4 115.1L898.7 107.0L899.1 115.3L899.4 113.0L899.8 110.4L900.1 118.2L900.5 116.3L900.8 113.7L901.2 116.6L901.5 114.8L901.9 112.0L902.3 113.0L902.6 121.1L903.0 112.1L903.3 113.8L903.7 119.9L904.0 112.1L904.4 115.4L904.7 114.8L905.1 112.5L905.4 116.3L905.8 119.4L906.2 121.2L906.5 122.8L906.9 123.0L907.2 125.8L907.6 124.8L907.9 122.0L908.3 125.0L908.6 125.7L909.0 127.5L909.3 124.1L909.7 123.1L910.0 122.9L910.4 118.8L910.8 125.8L911.1 121.4L911.5 120.6L911.8 122.3L912.2 129.0L912.5 120.6L912.9 128.1L913.2 116.1L913.6 119.3L913.9 125.0L914.3 118.4L914.7 118.8L915.0 114.9L915.4 111.2L915.7 119.9L916.1 121.3L916.4 119.9L916.8 124.8L917.1 118.1L917.5 120.7L917.8 111.1L918.2 116.9L918.5 119.1L918.9 122.9L919.3 125.7L919.6 124.4L920.0 122.5L920.3 118.1L920.7 117.4L921.0 118.3L921.4 118.4L921.7 121.0L922.1 114.3L922.4 110.6L922.8 109.8L923.2 122.5L923.5 118.7L923.9 113.4L924.2 115.6L924.6 117.7L924.9 115.1L925.3 114.5L925.6 104.9L926.0 107.6L926.3 112.0L926.7 113.9L927.0 111.2L927.4 115.2L927.8 109.4L928.1 109.9L928.5 108.0L928.8 112.1L929.2 106.1L929.5 111.9L929.9 102.4L930.2 108.2L930.6 107.1L930.9 112.7L931.3 103.6L931.7 102.7L932.0 104.0L932.4 107.6L932.7 107.8L933.1 99.0L933.4 106.8L933.8 108.0L934.1 108.7L934.5 109.8L934.8 107.9L935.2 108.5L935.5 103.3L935.9 113.1L936.3 101.6L936.6 108.0L937.0 105.4L937.3 109.8L937.7 105.1L938.0 113.1L938.4 110.6L938.7 110.7L939.1 112.9L939.4 111.0L939.8 106.1L940.2 110.8L940.5 108.9L940.9 109.6L941.2 109.6L941.6 103.1L941.9 110.1L942.3 111.7L942.6 109.9L943.0 110.1L943.3 113.3L943.7 113.8L944.0 119.1L944.4 126.5L944.8 117.2L945.1 120.4L945.5 112.5L945.8 112.7L946.2 117.1L946.5 113.8L946.9 117.0L947.2 118.4L947.6 124.9L947.9 116.6L948.3 123.9L948.6 115.8L949.0 120.0L949.4 123.6L949.7 121.3L950.1 113.6L950.4 120.8L950.8 121.2L951.1 116.8L951.5 119.3L951.8 120.6L952.2 121.9L952.5 122.2L952.9 112.2L953.3 113.7L953.6 122.8L954.0 123.8L954.3 125.8L954.7 120.0L955.0 122.2L955.4 112.0L955.7 121.2L956.1 114.5L956.4 114.9L956.8 117.6L957.1 127.1L957.5 127.8L957.9 121.6L958.2 122.2L958.6 125.9L958.9 119.3L959.3 121.6L959.6 123.8L960.0 126.5L960.3 123.1L960.7 116.2L961.0 121.0L961.4 124.4L961.8 120.9L962.1 121.2L962.5 121.1L962.8 124.7L963.2 124.5L963.5 123.5L963.9 122.6L964.2 127.3L964.6 123.9L964.9 122.6L965.3 117.5L965.6 118.9L966.0 120.4L966.4 123.8L966.7 119.6L967.1 119.7L967.4 123.4L967.8 121.9L968.1 117.2L968.5 121.7L968.8 113.4L969.2 117.0L969.5 123.9L969.9 119.9L970.3 119.4L970.6 119.0L971.0 118.4L971.3 112.4L971.7 114.7L972.0 114.1L972.4 117.9L972.7 120.5L973.1 123.7L973.4 115.9L973.8 112.3L974.1 116.5L974.5 113.7L974.9 112.7L975.2 110.6L975.6 112.8L975.9 108.8L976.3 111.4L976.6 117.1L977.0 115.7L977.3 116.9L977.7 112.7L978.0 119.4L978.4 115.6L978.8 115.5L979.1 117.7L979.5 118.9L979.8 118.8L980.2 118.5L980.5 123.6L980.9 120.7L981.2 120.4L981.6 121.0L981.9 116.9L982.3 120.6L982.6 117.6L983.0 117.9L983.4 114.7L983.7 120.7L984.1 119.9L984.4 120.6L984.8 121.1L985.1 111.3L985.5 119.5L985.8 120.8L986.2 119.1L986.5 114.7L986.9 119.2L987.3 120.5L987.6 115.5L988.0 112.4L988.3 114.3L988.7 110.0L989.0 118.7L989.4 115.4L989.7 117.9L990.1 116.2L990.4 116.7L990.8 121.9L991.1 113.1L991.5 114.4L991.9 106.7L992.2 112.1L992.6 106.5L992.9 112.9L993.3 110.2L993.6 107.5L994.0 112.1L994.3 107.6L994.7 109.9L995.0 107.8L995.4 109.7L995.8 110.0L996.1 109.0L996.5 111.5L996.8 109.7L997.2 110.2L997.5 118.4L997.9 115.3L998.2 112.3L998.6 113.1L998.9 107.9L999.3 110.4L999.6 104.6L1000.0 111.4L1000.4 109.8L1000.7 109.2L1001.1 111.1L1001.4 107.4L1001.8 110.3L1002.1 108.4L1002.5 102.4L1002.8 103.9L1003.2 112.1L1003.5 103.7L1003.9 107.5L1004.3 104.7L1004.6 112.2L1005.0 111.2L1005.3 108.8L1005.7 103.4L1006.0 104.6L1006.4 108.4L1006.7 102.9L1007.1 99.2L1007.4 110.3L1007.8 109.7L1008.1 102.9L1008.5 109.2L1008.9 110.0L1009.2 109.2L1009.6 114.9L1009.9 116.0L1010.3 110.5L1010.6 113.4L1011.0 115.7L1011.3 116.4L1011.7 111.8L1012.0 116.9L1012.4 111.2L1012.8 117.9L1013.1 110.4L1013.5 118.1L1013.8 123.4L1014.2 123.4L1014.5 114.9L1014.9 110.5L1015.2 120.2L1015.6 122.4L1015.9 119.9L1016.3 121.0L1016.6 117.6L1017.0 121.1L1017.4 116.3L1017.7 115.9L1018.1 118.3L1018.4 125.2L1018.8 121.8L1019.1 119.8L1019.5 122.4L1019.8 118.0L1020.2 118.0L1020.5 117.8L1020.9 113.9L1021.3 119.3L1021.6 115.8L1022.0 119.3L1022.3 111.4L1022.7 114.8L1023.0 110.0L1023.4 113.1L1023.7 104.2L1024.1 109.6L1024.4 107.0L1024.8 102.1L1025.1 104.7L1025.5 104.2L1025.9 102.0L1026.2 99.6L1026.6 98.7L1026.9 97.8L1027.3 103.8L1027.6 100.6L1028.0 105.5L1028.3 106.1L1028.7 106.7L1029.0 100.5L1029.4 102.4L1029.8 103.2L1030.1 103.4L1030.5 104.4L1030.8 102.1L1031.2 101.8L1031.5 101.6L1031.9 102.9L1032.2 95.4L1032.6 102.3L1032.9 101.0L1033.3 97.5L1033.6 98.6L1034.0 101.4L1034.4 101.9L1034.7 99.9L1035.1 102.5L1035.4 102.7L1035.8 103.9L1036.1 105.4L1036.5 106.1L1036.8 101.0L1037.2 98.4L1037.5 106.4L1037.9 97.8L1038.3 103.6L1038.6 101.4L1039.0 105.0L1039.3 99.1L1039.7 99.1L1040.0 92.9L1040.4 100.3L1040.7 99.8L1041.1 96.4L1041.4 97.1L1041.8 103.4L1042.1 101.0L1042.5 100.1L1042.9 96.0L1043.2 97.4L1043.6 99.1L1043.9 95.7L1044.3 101.2L1044.6 96.2L1045.0 103.2L1045.3 96.2L1045.7 97.6L1046.0 97.0L1046.4 97.7L1046.7 97.5L1047.1 98.3L1047.5 100.1L1047.8 93.8L1048.2 97.6L1048.5 97.7L1048.9 96.2L1049.2 94.9L1049.6 101.2L1049.9 87.6L1050.3 92.7L1050.6 93.1L1051.0 94.4L1051.4 93.9L1051.7 96.8L1052.1 94.2L1052.4 96.4L1052.8 91.7L1053.1 96.7L1053.5 99.9L1053.8 92.9L1054.2 97.9L1054.5 92.1L1054.9 97.4L1055.2 94.0L1055.6 97.8L1056.0 92.0L1056.3 95.1L1056.7 90.7L1057.0 94.9L1057.4 95.9L1057.7 100.8L1058.1 94.5L1058.4 94.5L1058.8 99.4L1059.1 98.0L1059.5 93.0L1059.9 96.6L1060.2 95.2L1060.6 95.9L1060.9 95.8L1061.3 89.5L1061.6 93.2L1062.0 100.4L1062.3 96.8L1062.7 90.3L1063.0 93.0L1063.4 96.5L1063.7 92.3L1064.1 91.7L1064.5 101.1L1064.8 94.9L1065.2 97.2L1065.5 98.4L1065.9 100.5L1066.2 100.5L1066.6 109.4L1066.9 103.3L1067.3 106.6L1067.6 104.7L1068.0 107.3L1068.4 100.8L1068.7 91.5L1069.1 103.3L1069.4 103.0L1069.8 97.4L1070.1 88.9L1070.5 100.1L1070.8 94.5L1071.2 91.0L1071.5 92.0L1071.9 98.3L1072.2 91.0L1072.6 93.5L1073.0 90.5L1073.3 96.8L1073.7 91.7L1074.0 97.5L1074.4 94.2L1074.7 102.7L1075.1 93.3L1075.4 96.0L1075.8 100.2L1076.1 100.4L1076.5 94.8L1076.9 101.3L1077.2 102.9L1077.6 104.0L1077.9 102.8L1078.3 107.1L1078.6 105.9L1079.0 99.4L1079.3 97.3L1079.7 100.5L1080.0 103.1L1080.4 109.9L1080.7 96.1L1081.1 97.2L1081.5 93.0L1081.8 93.2L1082.2 101.4L1082.5 103.6L1082.9 98.4L1083.2 95.5L1083.6 94.5L1083.9 99.9L1084.3 97.0L1084.6 95.1L1085.0 93.5L1085.4 93.8L1085.7 95.4L1086.1 100.8L1086.4 94.9L1086.8 95.8L1087.1 97.4L1087.5 94.1L1087.8 95.5L1088.2 90.4L1088.5 92.0L1088.9 89.7L1089.2 95.5L1089.6 96.6L1090.0 93.3L1090.3 93.3L1090.7 94.9L1091.0 99.9L1091.4 98.8L1091.7 99.0L1092.1 94.1L1092.4 90.3L1092.8 91.1L1093.1 93.9L1093.5 99.5L1093.9 97.3L1094.2 101.7L1094.6 94.1L1094.9 96.7L1095.3 99.2L1095.6 97.6L1096.0 94.1L1096.3 100.0L1096.7 105.4L1097.0 96.7L1097.4 104.6L1097.7 107.0L1098.1 103.8L1098.5 105.8L1098.8 105.5L1099.2 105.6L1099.5 109.9L1099.9 106.9L1100.2 106.9L1100.6 104.7L1100.9 102.8L1101.3 105.4L1101.6 98.1L1102.0 99.9L1102.4 101.0L1102.7 93.0L1103.1 98.3L1103.4 99.0L1103.8 97.0L1104.1 95.6L1104.5 92.2L1104.8 103.3L1105.2 90.2L1105.5 94.1L1105.9 92.5L1106.2 99.1L1106.6 97.9L1107.0 99.7L1107.3 90.5L1107.7 98.1L1108.0 91.8L1108.4 95.5L1108.7 97.9L1109.1 91.0L1109.4 96.0L1109.8 94.9L1110.1 98.1L1110.5 98.9L1110.9 91.4L1111.2 95.5L1111.6 91.1L1111.9 89.8L1112.3 93.8L1112.6 96.6L1113.0 95.2L1113.3 98.5L1113.7 106.2L1114.0 101.8L1114.4 106.8L1114.7 107.8L1115.1 104.4L1115.5 114.1L1115.8 107.6L1116.2 106.7L1116.5 105.2L1116.9 107.6L1117.2 109.4L1117.6 107.0L1117.9 107.1L1118.3 105.6L1118.6 99.0L1119.0 99.8L1119.4 101.7L1119.7 102.3L1120.1 99.0L1120.4 102.8L1120.8 99.0L1121.1 103.9L1121.5 97.7L1121.8 102.1L1122.2 95.5L1122.5 102.4L1122.9 106.0L1123.2 99.9L1123.6 103.2L1124.0 103.5L1124.3 102.9L1124.7 106.6L1125.0 107.5L1125.4 110.6L1125.7 107.6L1126.1 109.6L1126.4 104.9L1126.8 112.7L1127.1 108.5L1127.5 108.9L1127.9 112.6L1128.2 111.1L1128.6 111.3L1128.9 106.2L1129.3 109.4L1129.6 106.7L1130.0 109.3L1130.3 108.1L1130.7 114.1L1131.0 103.7L1131.4 107.2L1131.7 108.9L1132.1 110.9" stroke="#ff0000"/>
</g>
<path d="M112.5 671.6H1132.1" stroke="#6f7358" stroke-width="1.15"/>
<path d="M134.50 702.50v5.25M261.50 702.50v5.25M389.50 702.50v5.25M516.50 702.50v5.25M643.50 702.50v5.25M771.50 702.50v5.25M898.50 702.50v5.25M1026.50 702.50v5.25M1153.50 702.50v5.25M62.50 672.50h-5.25M62.50 554.50h-5.25M62.50 436.50h-5.25M62.50 318.50h-5.25M62.50 201.50h-5.25M62.50 83.50h-5.25" stroke="#000" stroke-width="1.1" fill="none"/>
<rect x="62.50" y="37.50" width="1120.00" height="665.00" fill="none" stroke="#000" stroke-width="1.1"/>
<g font-family="'DejaVu Sans', 'Liberation Sans', sans-serif" font-size="13.89px" fill="#000" text-anchor="end">
<text x="52.1" y="676.5">0</text>
<text x="52.1" y="558.5">10</text>
<text x="52.1" y="440.5">20</text>
<text x="52.1" y="322.5">30</text>
<text x="52.1" y="205.5">40</text>
<text x="52.1" y="87.5">50</text>
</g>
<g font-family="'DejaVu Sans', 'Liberation Sans', sans-serif" font-size="13.89px" fill="#000" text-anchor="middle">
<text transform="translate(133.0 738.2) rotate(-45)" y="5">02-15 00</text>
<text transform="translate(260.0 738.2) rotate(-45)" y="5">02-15 03</text>
<text transform="translate(388.0 738.2) rotate(-45)" y="5">02-15 06</text>
<text transform="translate(515.0 738.2) rotate(-45)" y="5">02-15 09</text>
<text transform="translate(642.0 738.2) rotate(-45)" y="5">02-15 12</text>
<text transform="translate(770.0 738.2) rotate(-45)" y="5">02-15 15</text>
<text transform="translate(897.0 738.2) rotate(-45)" y="5">02-15 18</text>
<text transform="translate(1025.0 738.2) rotate(-45)" y="5">02-15 21</text>
<text transform="translate(1152.0 738.2) rotate(-45)" y="5">02-16 00</text>
</g>
<text x="622.4" y="781.7" font-family="'DejaVu Sans', 'Liberation Sans', sans-serif" font-size="13.89px" text-anchor="middle">Czas</text>
<text transform="translate(26.5 370) rotate(-90)" font-family="'DejaVu Sans', 'Liberation Sans', sans-serif" font-size="13.89px" text-anchor="middle">Wartość [dBHz]</text>
<text transform="translate(622.6 28.7) scale(1 1.06)" font-family="'DejaVu Sans', 'Liberation Sans', sans-serif" font-size="16.67px" text-anchor="middle">Wykresy liniowe L1 sygnał/szum [C/No] w funkcji czasu za 2026-02-15</text>
<text x="1171.2" y="693" font-family="'DejaVu Sans', 'Liberation Sans', sans-serif" font-size="11.11px" fill="#808080" text-anchor="end">Wygenerowano: 2026-02-15 23:29:57</text>
<rect x="1096.4" y="305.4" width="79.2" height="130" rx="1.6" fill="#fff" fill-opacity="0.8" stroke="#cccccc" stroke-opacity="0.8" stroke-width="1.1"/>
<g font-family="'DejaVu Sans', 'Liberation Sans', sans-serif" font-size="13.89px" fill="#000">
<path d="M1101.1 316.5H1129.8" stroke="#4242a8" stroke-width="1"/>
<text transform="translate(1141.0 321.2) scale(0.92 1)">GP</text>
<path d="M1101.1 337.5H1129.8" stroke="#444444" stroke-width="1"/>
<text transform="translate(1141.0 342.1) scale(0.92 1)">GL</text>
<path d="M1101.1 358.5H1129.8" stroke="#c44850" stroke-width="1"/>
<text transform="translate(1141.0 363.0) scale(0.92 1)">GA</text>
<path d="M1101.1 379.5H1129.8" stroke="#467446" stroke-width="1"/>
<text transform="translate(1141.0 383.9) scale(0.92 1)">GB</text>
<path d="M1101.1 399.5H1129.8" stroke="#bccbdc" stroke-width="1"/>
<text transform="translate(1141.0 404.8) scale(0.92 1)">GI</text>
<path d="M1101.1 420.5H1129.8" stroke="#f0d4c4" stroke-width="1"/>
<text transform="translate(1141.0 425.7) scale(0.92 1)">inne</text>
</g>
<g>
<rect x="1092.1" y="61" width="68.4" height="18.7" fill="#3e0e70"/>
<text x="1095.3" y="73.8" font-family="'DejaVu Sans', 'Liberation Sans', sans-serif" font-size="12.6px" font-weight="200" fill="#52c0a4" stroke="#52c0a4" stroke-width="0.3" textLength="50.5" lengthAdjust="spacingAndGlyphs">NavSim</text>
<path d="M1106.5 67L1108 66 M1110 66.5h1.5 M1113 66h1.5 M1116 66.5h1.5 M1118.5 66h1.5" stroke="#f0d8a0" stroke-width="1" fill="none"/>
<path d="M1147.5 65.8 Q1158 66 1157.8 71.5 Q1157 76.5 1149 77.6" stroke="#f8e468" stroke-width="1.4" fill="none" stroke-dasharray="1.8 0.8"/>
<path d="M1096 77.8H1140" stroke="#7f9cc0" stroke-width="0.9" stroke-dasharray="1 1.3"/>
</g>
</svg>
</body></html>
